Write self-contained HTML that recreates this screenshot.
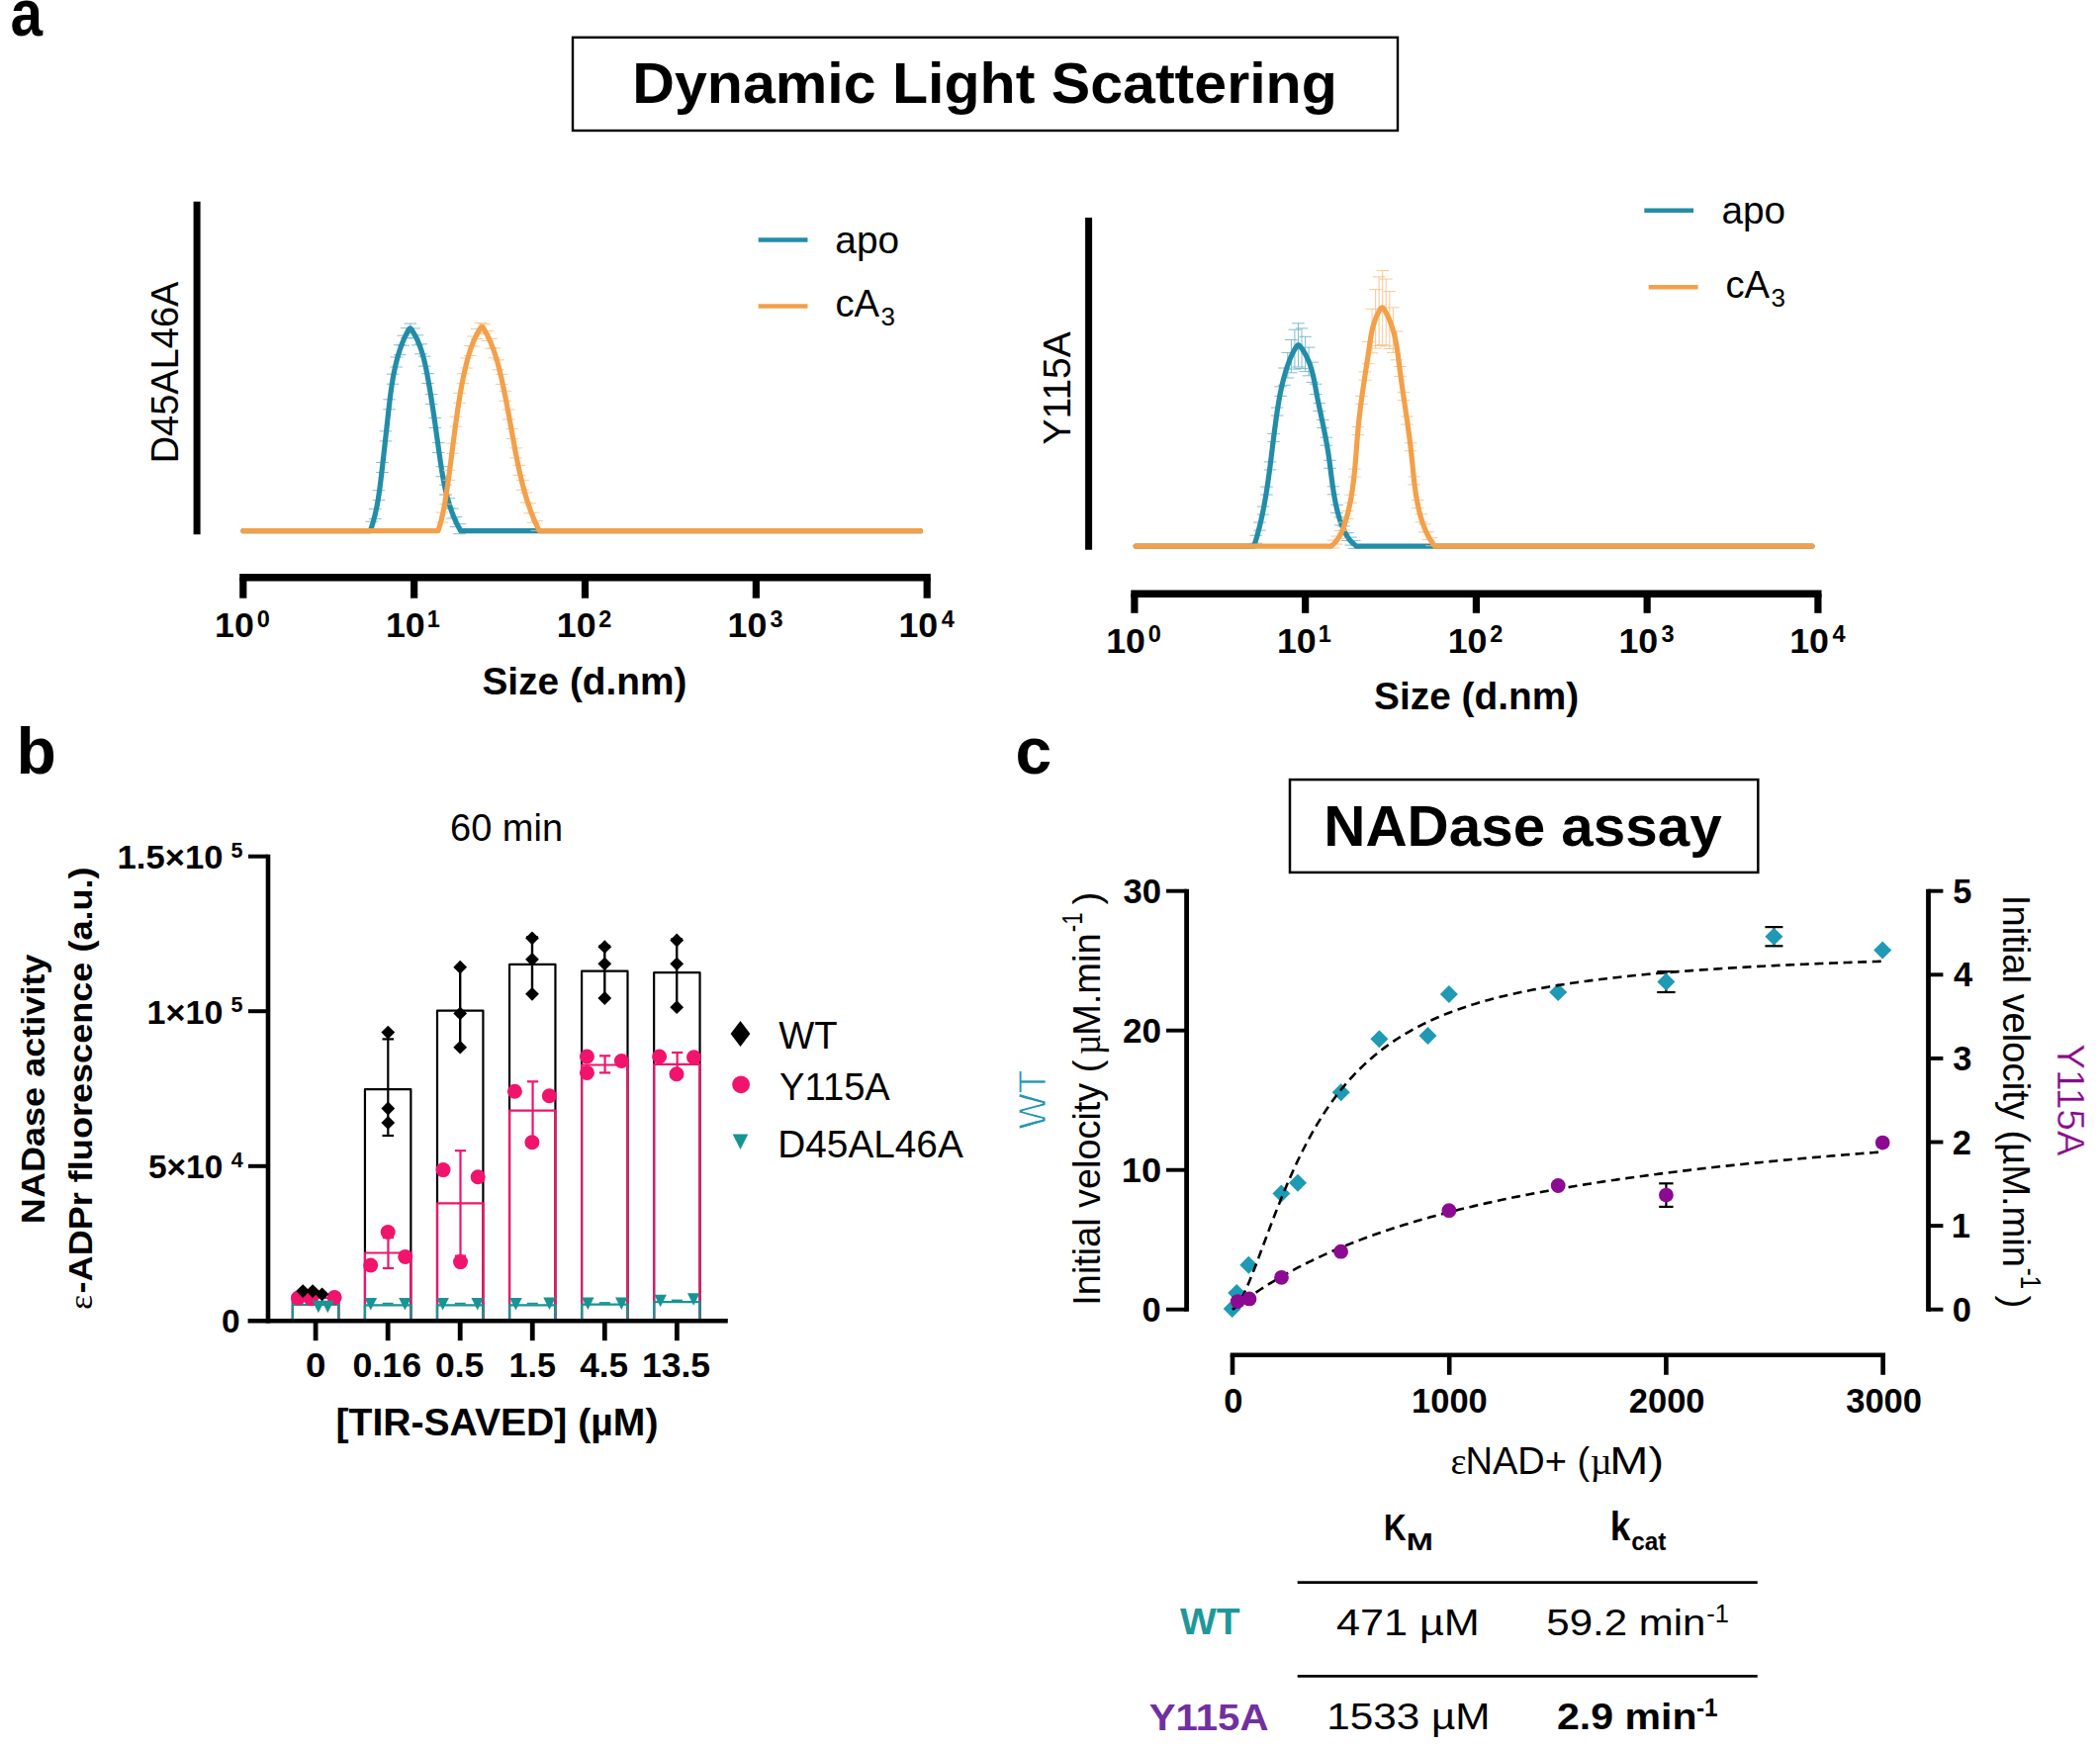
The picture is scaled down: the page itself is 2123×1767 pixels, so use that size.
<!DOCTYPE html>
<html><head><meta charset="utf-8"><title>Figure</title>
<style>html,body{margin:0;padding:0;background:#fff;overflow:hidden}svg{display:block}text{white-space:pre}</style></head>
<body><svg width="2123" height="1767" viewBox="0 0 2123 1767">
<rect width="2123" height="1767" fill="#fff"/>
<text x="10.49" y="36.30" font-family="'Liberation Sans', sans-serif" font-size="66" font-weight="bold" fill="#000"  textLength="32.54" lengthAdjust="spacingAndGlyphs">a</text>
<text x="16.48" y="782.00" font-family="'Liberation Sans', sans-serif" font-size="66" font-weight="bold" fill="#000" >b</text>
<text x="1026.54" y="781.70" font-family="'Liberation Sans', sans-serif" font-size="66" font-weight="bold" fill="#000" >c</text>
<rect x="579.00" y="37.80" width="834.00" height="94.20" fill="none" stroke="#000" stroke-width="2.4"/>
<text x="639.31" y="104.00" font-family="'Liberation Sans', sans-serif" font-size="57" font-weight="bold" fill="#000"  textLength="712.47" lengthAdjust="spacingAndGlyphs">Dynamic Light Scattering</text>
<line x1="199.10" y1="203.70" x2="199.10" y2="540.30" stroke="#000" stroke-width="7" stroke-linecap="butt" />
<text transform="translate(180.00,468.37) rotate(-90)" font-family="'Liberation Sans', sans-serif" font-size="38.8" font-weight="normal" fill="#000"  textLength="183.78" lengthAdjust="spacingAndGlyphs">D45AL46A</text>
<path d="M375.8,527.2V537.2M369.5,527.2h12.6M369.5,537.2h12.6M379.4,514.4V524.4M373.1,514.4h12.6M373.1,524.4h12.6M382.9,495.7V505.7M376.6,495.7h12.6M376.6,505.7h12.6M386.5,467.5V477.5M380.2,467.5h12.6M380.2,477.5h12.6M390.0,435.9V445.9M383.7,435.9h12.6M383.7,445.9h12.6M393.6,403.8V413.8M387.3,403.8h12.6M387.3,413.8h12.6M397.1,378.2V388.2M390.8,378.2h12.6M390.8,388.2h12.6M400.7,361.0V371.0M394.4,361.0h12.6M394.4,371.0h12.6M404.2,348.7V358.7M397.9,348.7h12.6M397.9,358.7h12.6M407.8,339.2V349.2M401.5,339.2h12.6M401.5,349.2h12.6M411.3,331.6V341.6M405.0,331.6h12.6M405.0,341.6h12.6M414.9,327.1V337.1M408.6,327.1h12.6M408.6,337.1h12.6M418.4,331.9V341.9M412.1,331.9h12.6M412.1,341.9h12.6M422.0,338.9V348.9M415.7,338.9h12.6M415.7,348.9h12.6M425.5,347.8V357.8M419.2,347.8h12.6M419.2,357.8h12.6M429.1,360.2V370.2M422.8,360.2h12.6M422.8,370.2h12.6M432.6,377.6V387.6M426.3,377.6h12.6M426.3,387.6h12.6M436.2,398.6V408.6M429.9,398.6h12.6M429.9,408.6h12.6M439.7,422.4V432.4M433.4,422.4h12.6M433.4,432.4h12.6M443.3,447.6V457.6M437.0,447.6h12.6M437.0,457.6h12.6M446.8,471.7V481.7M440.5,471.7h12.6M440.5,481.7h12.6M450.4,490.2V500.2M444.1,490.2h12.6M444.1,500.2h12.6M453.9,503.7V513.7M447.6,503.7h12.6M447.6,513.7h12.6M457.5,514.1V524.1M451.2,514.1h12.6M451.2,524.1h12.6M461.0,522.6V532.6M454.7,522.6h12.6M454.7,532.6h12.6M464.6,529.7V539.7M458.3,529.7h12.6M458.3,539.7h12.6" stroke="#6BB3C6" stroke-width="1" fill="none" opacity="0.85"/>
<path d="M246.00,536.70 L374.30,536.70 L374.73,535.46 L375.02,534.64 L375.34,533.69 L375.66,532.71 L375.99,531.71 L376.30,530.71 L376.61,529.70 L376.92,528.70 L377.21,527.69 L377.50,526.68 L377.78,525.67 L378.05,524.66 L378.32,523.64 L378.58,522.63 L378.84,521.61 L379.09,520.59 L379.33,519.57 L379.57,518.55 L379.80,517.53 L380.03,516.51 L380.25,515.48 L380.47,514.46 L380.68,513.43 L380.88,512.40 L381.09,511.37 L381.28,510.34 L381.48,509.31 L381.66,508.27 L381.85,507.24 L382.03,506.20 L382.20,505.16 L382.37,504.12 L382.54,503.08 L382.71,502.04 L382.87,501.00 L383.03,499.96 L383.18,498.92 L383.33,497.87 L383.48,496.82 L383.63,495.78 L383.77,494.73 L383.92,493.68 L384.05,492.63 L384.19,491.58 L384.33,490.53 L384.46,489.48 L384.59,488.42 L384.72,487.37 L384.85,486.32 L384.98,485.26 L385.11,484.20 L385.23,483.15 L385.36,482.09 L385.48,481.03 L385.61,479.97 L385.73,478.91 L385.85,477.85 L385.97,476.79 L386.10,475.73 L386.22,474.67 L386.34,473.61 L386.46,472.54 L386.59,471.48 L386.71,470.42 L386.83,469.35 L386.95,468.29 L387.07,467.22 L387.19,466.15 L387.31,465.09 L387.43,464.02 L387.55,462.96 L387.67,461.89 L387.79,460.82 L387.91,459.75 L388.03,458.69 L388.15,457.62 L388.27,456.55 L388.39,455.48 L388.51,454.41 L388.63,453.34 L388.75,452.27 L388.87,451.20 L388.99,450.13 L389.11,449.06 L389.23,448.00 L389.34,446.93 L389.46,445.86 L389.58,444.79 L389.70,443.72 L389.82,442.65 L389.94,441.58 L390.05,440.51 L390.17,439.44 L390.29,438.37 L390.41,437.30 L390.53,436.23 L390.64,435.16 L390.76,434.10 L390.88,433.03 L391.00,431.96 L391.11,430.89 L391.23,429.82 L391.35,428.76 L391.47,427.69 L391.58,426.62 L391.70,425.56 L391.82,424.49 L391.94,423.43 L392.05,422.36 L392.17,421.30 L392.29,420.23 L392.40,419.17 L392.52,418.11 L392.64,417.04 L392.76,415.98 L392.88,414.92 L392.99,413.86 L393.11,412.80 L393.23,411.74 L393.35,410.68 L393.47,409.62 L393.60,408.57 L393.72,407.51 L393.84,406.45 L393.97,405.40 L394.10,404.34 L394.23,403.29 L394.36,402.24 L394.49,401.18 L394.62,400.13 L394.76,399.08 L394.89,398.03 L395.03,396.98 L395.17,395.94 L395.32,394.89 L395.46,393.84 L395.61,392.80 L395.76,391.76 L395.92,390.71 L396.07,389.67 L396.23,388.63 L396.39,387.59 L396.56,386.55 L396.73,385.52 L396.90,384.48 L397.07,383.45 L397.25,382.41 L397.43,381.38 L397.62,380.35 L397.81,379.32 L398.00,378.29 L398.20,377.26 L398.40,376.24 L398.61,375.21 L398.82,374.19 L399.03,373.16 L399.25,372.14 L399.47,371.12 L399.70,370.11 L399.93,369.09 L400.17,368.08 L400.41,367.06 L400.66,366.05 L400.91,365.04 L401.17,364.03 L401.44,363.02 L401.71,362.02 L401.98,361.01 L402.26,360.01 L402.55,359.01 L402.85,358.01 L403.15,357.01 L403.45,356.02 L403.77,355.03 L404.09,354.03 L404.42,353.04 L404.76,352.05 L405.11,351.07 L405.46,350.08 L405.82,349.10 L406.19,348.12 L406.57,347.14 L406.96,346.16 L407.36,345.19 L407.77,344.21 L408.18,343.24 L408.61,342.27 L409.05,341.30 L409.50,340.34 L409.95,339.38 L410.42,338.41 L410.90,337.46 L411.39,336.50 L411.89,335.54 L412.40,334.59 L412.93,333.67 L413.47,332.83 L414.03,332.20 L414.61,331.96 L415.21,332.19 L415.82,332.82 L416.42,333.65 L417.02,334.58 L417.59,335.52 L418.15,336.47 L418.70,337.43 L419.23,338.39 L419.75,339.35 L420.25,340.31 L420.74,341.27 L421.21,342.24 L421.67,343.21 L422.12,344.18 L422.55,345.16 L422.97,346.14 L423.38,347.12 L423.78,348.10 L424.16,349.08 L424.54,350.07 L424.90,351.06 L425.26,352.05 L425.60,353.05 L425.93,354.04 L426.26,355.04 L426.57,356.04 L426.88,357.05 L427.17,358.05 L427.46,359.06 L427.74,360.07 L428.02,361.08 L428.28,362.09 L428.54,363.11 L428.80,364.12 L429.04,365.14 L429.28,366.16 L429.52,367.18 L429.75,368.21 L429.98,369.23 L430.20,370.26 L430.42,371.29 L430.63,372.32 L430.84,373.36 L431.05,374.39 L431.25,375.43 L431.46,376.47 L431.66,377.50 L431.85,378.55 L432.05,379.59 L432.25,380.63 L432.44,381.68 L432.63,382.72 L432.82,383.77 L433.01,384.82 L433.20,385.87 L433.39,386.93 L433.57,387.98 L433.76,389.03 L433.94,390.09 L434.12,391.15 L434.30,392.20 L434.48,393.26 L434.66,394.32 L434.84,395.39 L435.01,396.45 L435.19,397.51 L435.36,398.58 L435.54,399.64 L435.71,400.71 L435.88,401.78 L436.05,402.85 L436.22,403.91 L436.39,404.98 L436.55,406.06 L436.72,407.13 L436.89,408.20 L437.05,409.27 L437.21,410.35 L437.38,411.42 L437.54,412.50 L437.70,413.57 L437.86,414.65 L438.02,415.72 L438.18,416.80 L438.34,417.88 L438.50,418.96 L438.66,420.04 L438.82,421.12 L438.97,422.20 L439.13,423.27 L439.28,424.35 L439.44,425.44 L439.59,426.52 L439.75,427.60 L439.90,428.68 L440.06,429.76 L440.21,430.84 L440.36,431.92 L440.52,433.00 L440.67,434.08 L440.82,435.17 L440.97,436.25 L441.12,437.33 L441.28,438.41 L441.43,439.49 L441.58,440.57 L441.73,441.65 L441.88,442.74 L442.03,443.82 L442.18,444.90 L442.33,445.98 L442.48,447.06 L442.63,448.14 L442.79,449.22 L442.94,450.30 L443.09,451.37 L443.24,452.45 L443.39,453.53 L443.54,454.61 L443.69,455.68 L443.85,456.76 L444.00,457.84 L444.15,458.91 L444.30,459.99 L444.46,461.06 L444.61,462.13 L444.76,463.20 L444.92,464.28 L445.07,465.35 L445.23,466.42 L445.39,467.49 L445.55,468.55 L445.71,469.62 L445.87,470.69 L446.03,471.75 L446.20,472.82 L446.37,473.88 L446.54,474.94 L446.71,476.01 L446.88,477.07 L447.06,478.13 L447.24,479.18 L447.42,480.24 L447.60,481.30 L447.79,482.35 L447.98,483.41 L448.17,484.46 L448.37,485.51 L448.57,486.56 L448.77,487.61 L448.98,488.65 L449.19,489.70 L449.41,490.74 L449.62,491.78 L449.85,492.83 L450.07,493.86 L450.31,494.90 L450.54,495.94 L450.78,496.97 L451.03,498.01 L451.28,499.04 L451.53,500.07 L451.79,501.09 L452.06,502.12 L452.33,503.14 L452.61,504.17 L452.89,505.19 L453.18,506.21 L453.47,507.22 L453.77,508.24 L454.08,509.25 L454.39,510.26 L454.71,511.27 L455.04,512.28 L455.37,513.28 L455.71,514.28 L456.06,515.28 L456.41,516.28 L456.77,517.28 L457.14,518.27 L457.51,519.26 L457.90,520.25 L458.29,521.24 L458.69,522.23 L459.09,523.21 L459.51,524.19 L459.93,525.17 L460.36,526.14 L460.80,527.11 L461.25,528.08 L461.70,529.05 L462.17,530.02 L462.65,530.98 L463.13,531.94 L463.63,532.89 L464.12,533.84 L464.61,534.74 L465.04,535.52 L465.70,536.70 L930.50,536.70" fill="none" stroke="#238DA8" stroke-width="5.2" stroke-linejoin="round" stroke-linecap="round"/>
<path d="M446.8,518.0V528.0M440.5,518.0h12.6M440.5,528.0h12.6M450.4,499.7V509.7M444.1,499.7h12.6M444.1,509.7h12.6M453.9,475.3V485.3M447.6,475.3h12.6M447.6,485.3h12.6M457.5,448.2V458.2M451.2,448.2h12.6M451.2,458.2h12.6M461.0,421.2V431.2M454.7,421.2h12.6M454.7,431.2h12.6M464.6,397.3V407.3M458.3,397.3h12.6M458.3,407.3h12.6M468.1,377.7V387.7M461.8,377.7h12.6M461.8,387.7h12.6M471.7,362.0V372.0M465.4,362.0h12.6M465.4,372.0h12.6M475.2,349.6V359.6M468.9,349.6h12.6M468.9,359.6h12.6M478.8,340.0V350.0M472.5,340.0h12.6M472.5,350.0h12.6M482.3,332.5V342.5M476.0,332.5h12.6M476.0,342.5h12.6M485.9,326.5V336.5M479.6,326.5h12.6M479.6,336.5h12.6M489.4,327.8V337.8M483.1,327.8h12.6M483.1,337.8h12.6M493.0,334.5V344.5M486.7,334.5h12.6M486.7,344.5h12.6M496.5,342.3V352.3M490.2,342.3h12.6M490.2,352.3h12.6M500.1,351.9V361.9M493.8,351.9h12.6M493.8,361.9h12.6M503.6,363.8V373.8M497.3,363.8h12.6M497.3,373.8h12.6M507.2,378.4V388.4M500.9,378.4h12.6M500.9,388.4h12.6M510.7,395.3V405.3M504.4,395.3h12.6M504.4,405.3h12.6M514.3,414.0V424.0M508.0,414.0h12.6M508.0,424.0h12.6M517.8,433.6V443.6M511.5,433.6h12.6M511.5,443.6h12.6M521.4,452.9V462.9M515.1,452.9h12.6M515.1,462.9h12.6M524.9,470.3V480.3M518.6,470.3h12.6M518.6,480.3h12.6M528.5,485.3V495.3M522.2,485.3h12.6M522.2,495.3h12.6M532.0,498.0V508.0M525.7,498.0h12.6M525.7,508.0h12.6M535.6,508.8V518.8M529.3,508.8h12.6M529.3,518.8h12.6M539.1,518.2V528.2M532.8,518.2h12.6M532.8,528.2h12.6M542.7,526.4V536.4M536.4,526.4h12.6M536.4,536.4h12.6" stroke="#F6BE85" stroke-width="1" fill="none" opacity="0.85"/>
<path d="M246.00,536.70 L442.90,536.70 L443.32,535.45 L443.59,534.61 L443.89,533.66 L444.21,532.66 L444.51,531.64 L444.81,530.63 L445.10,529.61 L445.39,528.59 L445.67,527.57 L445.94,526.55 L446.20,525.53 L446.46,524.50 L446.71,523.47 L446.95,522.44 L447.19,521.41 L447.42,520.38 L447.65,519.35 L447.87,518.32 L448.09,517.28 L448.30,516.24 L448.51,515.20 L448.71,514.17 L448.91,513.12 L449.10,512.08 L449.29,511.04 L449.48,509.99 L449.66,508.95 L449.84,507.90 L450.01,506.85 L450.19,505.80 L450.36,504.75 L450.53,503.70 L450.69,502.65 L450.86,501.59 L451.02,500.54 L451.18,499.48 L451.34,498.42 L451.50,497.36 L451.66,496.31 L451.81,495.25 L451.97,494.18 L452.12,493.12 L452.28,492.06 L452.43,491.00 L452.58,489.93 L452.73,488.87 L452.89,487.80 L453.04,486.73 L453.18,485.66 L453.33,484.60 L453.48,483.53 L453.63,482.46 L453.77,481.39 L453.92,480.31 L454.07,479.24 L454.21,478.17 L454.36,477.10 L454.50,476.02 L454.64,474.95 L454.79,473.87 L454.93,472.80 L455.07,471.72 L455.21,470.65 L455.35,469.57 L455.49,468.49 L455.64,467.42 L455.78,466.34 L455.92,465.26 L456.06,464.18 L456.20,463.10 L456.34,462.02 L456.47,460.95 L456.61,459.87 L456.75,458.79 L456.89,457.71 L457.03,456.63 L457.17,455.55 L457.31,454.47 L457.45,453.38 L457.59,452.30 L457.73,451.22 L457.87,450.14 L458.00,449.06 L458.14,447.98 L458.28,446.90 L458.42,445.82 L458.56,444.74 L458.70,443.66 L458.84,442.58 L458.98,441.50 L459.12,440.42 L459.27,439.34 L459.41,438.26 L459.55,437.18 L459.69,436.10 L459.83,435.02 L459.98,433.94 L460.12,432.86 L460.26,431.78 L460.41,430.70 L460.55,429.63 L460.70,428.55 L460.85,427.47 L460.99,426.40 L461.14,425.32 L461.29,424.24 L461.44,423.17 L461.59,422.09 L461.74,421.02 L461.89,419.95 L462.04,418.87 L462.20,417.80 L462.35,416.73 L462.50,415.66 L462.66,414.59 L462.82,413.52 L462.98,412.45 L463.14,411.38 L463.30,410.31 L463.46,409.25 L463.63,408.18 L463.79,407.11 L463.96,406.05 L464.13,404.99 L464.30,403.92 L464.47,402.86 L464.64,401.80 L464.82,400.74 L464.99,399.68 L465.17,398.62 L465.35,397.57 L465.53,396.51 L465.72,395.46 L465.90,394.40 L466.09,393.35 L466.28,392.30 L466.47,391.25 L466.67,390.20 L466.86,389.15 L467.06,388.10 L467.26,387.06 L467.47,386.01 L467.67,384.97 L467.88,383.92 L468.09,382.88 L468.30,381.84 L468.52,380.81 L468.73,379.77 L468.95,378.73 L469.18,377.70 L469.40,376.67 L469.63,375.64 L469.86,374.61 L470.09,373.58 L470.33,372.55 L470.57,371.53 L470.81,370.50 L471.06,369.48 L471.31,368.46 L471.56,367.44 L471.81,366.42 L472.07,365.41 L472.34,364.40 L472.61,363.38 L472.88,362.37 L473.16,361.36 L473.44,360.36 L473.73,359.35 L474.03,358.35 L474.33,357.35 L474.64,356.35 L474.96,355.35 L475.28,354.35 L475.61,353.36 L475.95,352.37 L476.30,351.38 L476.65,350.39 L477.02,349.41 L477.39,348.42 L477.78,347.44 L478.17,346.46 L478.57,345.48 L478.99,344.51 L479.41,343.53 L479.85,342.56 L480.30,341.59 L480.76,340.63 L481.23,339.66 L481.71,338.70 L482.21,337.74 L482.72,336.78 L483.24,335.82 L483.77,334.87 L484.32,333.92 L484.89,332.98 L485.46,332.05 L486.05,331.22 L486.65,330.60 L487.25,330.36 L487.84,330.60 L488.42,331.23 L488.98,332.08 L489.54,333.01 L490.08,333.97 L490.61,334.93 L491.13,335.89 L491.65,336.85 L492.15,337.82 L492.64,338.79 L493.12,339.77 L493.59,340.74 L494.05,341.72 L494.51,342.70 L494.95,343.68 L495.39,344.67 L495.81,345.66 L496.23,346.65 L496.64,347.64 L497.04,348.63 L497.44,349.63 L497.82,350.63 L498.20,351.63 L498.57,352.63 L498.94,353.64 L499.29,354.64 L499.64,355.65 L499.99,356.66 L500.33,357.68 L500.66,358.69 L500.98,359.71 L501.30,360.73 L501.61,361.75 L501.92,362.77 L502.22,363.80 L502.52,364.82 L502.81,365.85 L503.10,366.88 L503.38,367.91 L503.66,368.95 L503.94,369.98 L504.21,371.02 L504.47,372.06 L504.73,373.10 L504.99,374.14 L505.25,375.18 L505.50,376.22 L505.75,377.27 L506.00,378.32 L506.24,379.37 L506.48,380.42 L506.72,381.47 L506.96,382.52 L507.20,383.58 L507.43,384.63 L507.66,385.69 L507.89,386.75 L508.12,387.81 L508.35,388.87 L508.58,389.93 L508.80,390.99 L509.03,392.06 L509.25,393.12 L509.47,394.19 L509.69,395.25 L509.91,396.32 L510.12,397.39 L510.34,398.46 L510.55,399.53 L510.77,400.61 L510.98,401.68 L511.19,402.75 L511.40,403.83 L511.61,404.90 L511.82,405.98 L512.03,407.06 L512.24,408.13 L512.44,409.21 L512.65,410.29 L512.85,411.37 L513.06,412.45 L513.26,413.53 L513.46,414.61 L513.66,415.69 L513.86,416.78 L514.06,417.86 L514.26,418.94 L514.46,420.03 L514.66,421.11 L514.86,422.20 L515.06,423.28 L515.26,424.37 L515.45,425.45 L515.65,426.54 L515.85,427.62 L516.04,428.71 L516.24,429.79 L516.43,430.88 L516.63,431.97 L516.83,433.05 L517.02,434.14 L517.22,435.23 L517.41,436.31 L517.61,437.40 L517.80,438.49 L518.00,439.58 L518.20,440.66 L518.39,441.75 L518.59,442.83 L518.78,443.92 L518.98,445.01 L519.18,446.09 L519.38,447.18 L519.57,448.26 L519.77,449.35 L519.97,450.43 L520.17,451.52 L520.37,452.60 L520.57,453.69 L520.78,454.77 L520.98,455.85 L521.19,456.93 L521.39,458.02 L521.60,459.10 L521.81,460.18 L522.02,461.26 L522.23,462.34 L522.44,463.42 L522.65,464.49 L522.87,465.57 L523.09,466.65 L523.31,467.72 L523.53,468.80 L523.75,469.87 L523.97,470.95 L524.20,472.02 L524.43,473.09 L524.66,474.16 L524.89,475.23 L525.13,476.30 L525.36,477.37 L525.60,478.43 L525.84,479.50 L526.09,480.57 L526.33,481.63 L526.58,482.69 L526.84,483.75 L527.09,484.81 L527.35,485.87 L527.61,486.93 L527.87,487.99 L528.14,489.04 L528.41,490.10 L528.68,491.15 L528.96,492.20 L529.23,493.25 L529.52,494.30 L529.80,495.34 L530.09,496.39 L530.38,497.43 L530.68,498.48 L530.98,499.52 L531.28,500.56 L531.59,501.59 L531.90,502.63 L532.22,503.67 L532.53,504.70 L532.86,505.73 L533.18,506.76 L533.52,507.79 L533.85,508.81 L534.19,509.84 L534.53,510.86 L534.88,511.88 L535.24,512.90 L535.59,513.91 L535.95,514.93 L536.32,515.94 L536.69,516.95 L537.07,517.96 L537.45,518.97 L537.83,519.97 L538.23,520.97 L538.62,521.97 L539.02,522.97 L539.43,523.97 L539.84,524.96 L540.26,525.95 L540.68,526.94 L541.10,527.93 L541.54,528.91 L541.98,529.89 L542.42,530.87 L542.87,531.85 L543.32,532.82 L543.78,533.78 L544.22,534.70 L544.61,535.50 L545.20,536.70 L930.50,536.70" fill="none" stroke="#F2A04A" stroke-width="5.2" stroke-linejoin="round" stroke-linecap="round"/>
<line x1="242.20" y1="583.80" x2="940.80" y2="583.80" stroke="#000" stroke-width="7.4" stroke-linecap="butt" />
<line x1="245.80" y1="583.80" x2="245.80" y2="604.70" stroke="#000" stroke-width="7.2" stroke-linecap="butt" />
<text x="217.06" y="644.00" font-family="'Liberation Sans', sans-serif" font-size="35.5" font-weight="bold" fill="#000"  textLength="39.79" lengthAdjust="spacingAndGlyphs">10</text>
<text x="259.67" y="633.50" font-family="'Liberation Sans', sans-serif" font-size="23.5" font-weight="bold" fill="#000" >0</text>
<line x1="418.65" y1="583.80" x2="418.65" y2="604.70" stroke="#000" stroke-width="7.2" stroke-linecap="butt" />
<text x="389.91" y="644.00" font-family="'Liberation Sans', sans-serif" font-size="35.5" font-weight="bold" fill="#000"  textLength="39.79" lengthAdjust="spacingAndGlyphs">10</text>
<text x="431.78" y="633.50" font-family="'Liberation Sans', sans-serif" font-size="23.5" font-weight="bold" fill="#000" >1</text>
<line x1="591.50" y1="583.80" x2="591.50" y2="604.70" stroke="#000" stroke-width="7.2" stroke-linecap="butt" />
<text x="562.76" y="644.00" font-family="'Liberation Sans', sans-serif" font-size="35.5" font-weight="bold" fill="#000"  textLength="39.79" lengthAdjust="spacingAndGlyphs">10</text>
<text x="605.37" y="633.50" font-family="'Liberation Sans', sans-serif" font-size="23.5" font-weight="bold" fill="#000" >2</text>
<line x1="764.35" y1="583.80" x2="764.35" y2="604.70" stroke="#000" stroke-width="7.2" stroke-linecap="butt" />
<text x="735.61" y="644.00" font-family="'Liberation Sans', sans-serif" font-size="35.5" font-weight="bold" fill="#000"  textLength="39.79" lengthAdjust="spacingAndGlyphs">10</text>
<text x="778.58" y="633.50" font-family="'Liberation Sans', sans-serif" font-size="23.5" font-weight="bold" fill="#000" >3</text>
<line x1="937.20" y1="583.80" x2="937.20" y2="604.70" stroke="#000" stroke-width="7.2" stroke-linecap="butt" />
<text x="908.46" y="644.00" font-family="'Liberation Sans', sans-serif" font-size="35.5" font-weight="bold" fill="#000"  textLength="39.79" lengthAdjust="spacingAndGlyphs">10</text>
<text x="951.80" y="633.50" font-family="'Liberation Sans', sans-serif" font-size="23.5" font-weight="bold" fill="#000" >4</text>
<text x="487.49" y="702.00" font-family="'Liberation Sans', sans-serif" font-size="38" font-weight="bold" fill="#000"  textLength="207.01" lengthAdjust="spacingAndGlyphs">Size (d.nm)</text>
<line x1="766.70" y1="242.50" x2="816.50" y2="242.50" stroke="#238DA8" stroke-width="4.6" stroke-linecap="butt" />
<line x1="766.70" y1="309.50" x2="816.50" y2="309.50" stroke="#F2A04A" stroke-width="4.6" stroke-linecap="butt" />
<text x="844.39" y="255.90" font-family="'Liberation Sans', sans-serif" font-size="38.5" font-weight="normal" fill="#000"  textLength="64.68" lengthAdjust="spacingAndGlyphs">apo</text>
<text x="844.41" y="320.00" font-family="'Liberation Sans', sans-serif" font-size="38.5" font-weight="normal" fill="#000"  textLength="44.61" lengthAdjust="spacingAndGlyphs">cA</text>
<text x="890.39" y="329.00" font-family="'Liberation Sans', sans-serif" font-size="26" font-weight="normal" fill="#000" >3</text>
<line x1="1100.60" y1="220.00" x2="1100.60" y2="555.80" stroke="#000" stroke-width="7" stroke-linecap="butt" />
<text transform="translate(1081.50,449.41) rotate(-90)" font-family="'Liberation Sans', sans-serif" font-size="38.8" font-weight="normal" fill="#000"  textLength="114.22" lengthAdjust="spacingAndGlyphs">Y115A</text>
<path d="M1269.9,541.2V549.2M1263.6,541.2h12.6M1263.6,549.2h12.6M1273.4,528.1V536.1M1267.1,528.1h12.6M1267.1,536.1h12.6M1277.0,512.1V520.1M1270.7,512.1h12.6M1270.7,520.1h12.6M1280.5,492.1V500.1M1274.2,492.1h12.6M1274.2,500.1h12.6M1284.1,466.9V474.9M1277.8,466.9h12.6M1277.8,474.9h12.6M1287.6,438.4V446.4M1281.3,438.4h12.6M1281.3,446.4h12.6M1291.2,412.1V420.1M1284.9,412.1h12.6M1284.9,420.1h12.6M1294.7,390.8V400.4M1288.4,390.8h12.6M1288.4,400.4h12.6M1298.3,372.0V389.3M1292.0,372.0h12.6M1292.0,389.3h12.6M1301.8,356.4V382.0M1295.5,356.4h12.6M1295.5,382.0h12.6M1305.4,343.5V376.8M1299.1,343.5h12.6M1299.1,376.8h12.6M1308.9,333.2V373.1M1302.6,333.2h12.6M1302.6,373.1h12.6M1312.5,326.8V371.0M1306.2,326.8h12.6M1306.2,371.0h12.6M1316.0,331.9V372.6M1309.7,331.9h12.6M1309.7,372.6h12.6M1319.6,340.3V375.6M1313.3,340.3h12.6M1313.3,375.6h12.6M1323.1,351.1V379.8M1316.8,351.1h12.6M1316.8,379.8h12.6M1326.7,366.2V386.4M1320.4,366.2h12.6M1320.4,386.4h12.6M1330.2,388.2V398.6M1323.9,388.2h12.6M1323.9,398.6h12.6M1333.8,407.6V415.6M1327.5,407.6h12.6M1327.5,415.6h12.6M1337.3,424.4V432.4M1331.0,424.4h12.6M1331.0,432.4h12.6M1340.9,442.2V450.2M1334.6,442.2h12.6M1334.6,450.2h12.6M1344.4,465.3V473.3M1338.1,465.3h12.6M1338.1,473.3h12.6M1348.0,491.8V499.8M1341.7,491.8h12.6M1341.7,499.8h12.6M1351.5,510.4V518.4M1345.2,510.4h12.6M1345.2,518.4h12.6M1355.1,522.9V530.9M1348.8,522.9h12.6M1348.8,530.9h12.6M1358.6,531.9V539.9M1352.3,531.9h12.6M1352.3,539.9h12.6M1362.2,538.5V546.5M1355.9,538.5h12.6M1355.9,546.5h12.6M1365.7,543.1V551.1M1359.4,543.1h12.6M1359.4,551.1h12.6M1369.3,546.4V554.4M1363.0,546.4h12.6M1363.0,554.4h12.6" stroke="#6BB3C6" stroke-width="1" fill="none" opacity="0.85"/>
<path d="M1148.20,552.10 L1267.70,552.10 L1268.10,550.88 L1268.36,550.06 L1268.65,549.13 L1268.96,548.16 L1269.26,547.17 L1269.56,546.18 L1269.86,545.19 L1270.15,544.20 L1270.44,543.20 L1270.73,542.20 L1271.01,541.20 L1271.29,540.20 L1271.57,539.20 L1271.84,538.19 L1272.11,537.19 L1272.38,536.18 L1272.64,535.17 L1272.90,534.16 L1273.15,533.14 L1273.41,532.13 L1273.65,531.11 L1273.90,530.10 L1274.14,529.08 L1274.38,528.06 L1274.62,527.03 L1274.86,526.01 L1275.09,524.98 L1275.31,523.96 L1275.54,522.93 L1275.76,521.90 L1275.98,520.87 L1276.20,519.84 L1276.41,518.81 L1276.63,517.77 L1276.84,516.74 L1277.04,515.70 L1277.25,514.66 L1277.45,513.62 L1277.65,512.58 L1277.85,511.54 L1278.04,510.50 L1278.23,509.45 L1278.42,508.41 L1278.61,507.36 L1278.80,506.32 L1278.98,505.27 L1279.16,504.22 L1279.34,503.17 L1279.52,502.12 L1279.70,501.07 L1279.87,500.02 L1280.04,498.96 L1280.21,497.91 L1280.38,496.85 L1280.55,495.80 L1280.71,494.74 L1280.87,493.69 L1281.04,492.63 L1281.20,491.57 L1281.35,490.51 L1281.51,489.45 L1281.67,488.39 L1281.82,487.33 L1281.97,486.27 L1282.12,485.21 L1282.27,484.15 L1282.42,483.08 L1282.57,482.02 L1282.72,480.96 L1282.86,479.89 L1283.01,478.83 L1283.15,477.76 L1283.29,476.70 L1283.43,475.63 L1283.58,474.57 L1283.71,473.50 L1283.85,472.44 L1283.99,471.37 L1284.13,470.30 L1284.27,469.24 L1284.40,468.17 L1284.54,467.10 L1284.67,466.03 L1284.81,464.97 L1284.94,463.90 L1285.07,462.83 L1285.21,461.76 L1285.34,460.70 L1285.47,459.63 L1285.60,458.56 L1285.73,457.49 L1285.87,456.43 L1286.00,455.36 L1286.13,454.29 L1286.26,453.23 L1286.39,452.16 L1286.52,451.09 L1286.65,450.03 L1286.79,448.96 L1286.92,447.89 L1287.05,446.83 L1287.18,445.76 L1287.31,444.70 L1287.45,443.64 L1287.58,442.57 L1287.71,441.51 L1287.85,440.45 L1287.98,439.38 L1288.11,438.32 L1288.25,437.26 L1288.39,436.20 L1288.52,435.14 L1288.66,434.08 L1288.80,433.02 L1288.94,431.96 L1289.08,430.90 L1289.22,429.85 L1289.36,428.79 L1289.50,427.73 L1289.64,426.68 L1289.79,425.62 L1289.93,424.57 L1290.08,423.52 L1290.23,422.47 L1290.38,421.42 L1290.53,420.37 L1290.68,419.32 L1290.83,418.27 L1290.99,417.22 L1291.14,416.17 L1291.30,415.13 L1291.46,414.09 L1291.62,413.04 L1291.78,412.00 L1291.95,410.96 L1292.11,409.92 L1292.28,408.88 L1292.45,407.84 L1292.63,406.81 L1292.80,405.77 L1292.98,404.74 L1293.17,403.71 L1293.35,402.67 L1293.54,401.64 L1293.73,400.62 L1293.92,399.59 L1294.12,398.56 L1294.32,397.54 L1294.52,396.52 L1294.73,395.49 L1294.94,394.47 L1295.16,393.46 L1295.37,392.44 L1295.60,391.42 L1295.82,390.41 L1296.05,389.40 L1296.29,388.39 L1296.53,387.38 L1296.77,386.37 L1297.02,385.36 L1297.27,384.36 L1297.53,383.36 L1297.80,382.36 L1298.06,381.36 L1298.34,380.36 L1298.61,379.37 L1298.90,378.37 L1299.19,377.38 L1299.48,376.39 L1299.78,375.40 L1300.09,374.42 L1300.40,373.43 L1300.72,372.45 L1301.04,371.47 L1301.37,370.49 L1301.70,369.52 L1302.05,368.55 L1302.39,367.57 L1302.75,366.60 L1303.11,365.64 L1303.48,364.67 L1303.86,363.71 L1304.24,362.75 L1304.64,361.79 L1305.05,360.83 L1305.46,359.88 L1305.90,358.93 L1306.34,357.98 L1306.81,357.03 L1307.29,356.09 L1307.78,355.15 L1308.30,354.21 L1308.84,353.27 L1309.40,352.34 L1309.98,351.41 L1310.58,350.50 L1311.22,349.68 L1311.88,349.07 L1312.57,348.84 L1313.28,349.07 L1314.00,349.68 L1314.71,350.51 L1315.40,351.41 L1316.07,352.35 L1316.72,353.29 L1317.34,354.23 L1317.94,355.18 L1318.52,356.13 L1319.08,357.08 L1319.62,358.04 L1320.14,359.00 L1320.64,359.96 L1321.12,360.93 L1321.58,361.90 L1322.03,362.87 L1322.46,363.85 L1322.87,364.83 L1323.27,365.81 L1323.65,366.80 L1324.02,367.79 L1324.38,368.78 L1324.72,369.77 L1325.05,370.77 L1325.36,371.77 L1325.67,372.77 L1325.96,373.78 L1326.25,374.79 L1326.52,375.80 L1326.78,376.81 L1327.04,377.83 L1327.29,378.85 L1327.52,379.87 L1327.76,380.90 L1327.98,381.92 L1328.20,382.95 L1328.42,383.98 L1328.63,385.02 L1328.83,386.05 L1329.03,387.09 L1329.23,388.13 L1329.43,389.17 L1329.62,390.22 L1329.82,391.26 L1330.01,392.31 L1330.20,393.36 L1330.39,394.41 L1330.58,395.47 L1330.78,396.52 L1330.97,397.58 L1331.17,398.64 L1331.37,399.70 L1331.58,400.76 L1331.78,401.83 L1331.99,402.89 L1332.20,403.96 L1332.42,405.03 L1332.63,406.10 L1332.85,407.17 L1333.07,408.24 L1333.29,409.32 L1333.51,410.39 L1333.73,411.47 L1333.96,412.55 L1334.18,413.63 L1334.41,414.71 L1334.64,415.79 L1334.87,416.87 L1335.10,417.96 L1335.33,419.04 L1335.56,420.13 L1335.79,421.21 L1336.02,422.30 L1336.25,423.39 L1336.48,424.47 L1336.71,425.56 L1336.94,426.65 L1337.17,427.74 L1337.40,428.83 L1337.63,429.93 L1337.85,431.02 L1338.08,432.11 L1338.30,433.20 L1338.53,434.30 L1338.75,435.39 L1338.97,436.48 L1339.19,437.58 L1339.41,438.67 L1339.63,439.77 L1339.84,440.86 L1340.05,441.96 L1340.26,443.05 L1340.47,444.15 L1340.67,445.24 L1340.87,446.33 L1341.07,447.43 L1341.27,448.52 L1341.46,449.62 L1341.65,450.71 L1341.84,451.80 L1342.02,452.90 L1342.20,453.99 L1342.38,455.08 L1342.55,456.17 L1342.72,457.26 L1342.89,458.35 L1343.05,459.44 L1343.21,460.53 L1343.37,461.62 L1343.52,462.71 L1343.67,463.80 L1343.82,464.89 L1343.97,465.98 L1344.11,467.06 L1344.26,468.15 L1344.40,469.24 L1344.54,470.32 L1344.68,471.41 L1344.82,472.49 L1344.96,473.58 L1345.10,474.66 L1345.23,475.75 L1345.37,476.83 L1345.51,477.91 L1345.64,479.00 L1345.78,480.08 L1345.92,481.16 L1346.06,482.24 L1346.20,483.32 L1346.34,484.40 L1346.48,485.48 L1346.63,486.56 L1346.77,487.64 L1346.92,488.72 L1347.07,489.80 L1347.22,490.88 L1347.38,491.96 L1347.54,493.04 L1347.70,494.12 L1347.86,495.20 L1348.03,496.27 L1348.20,497.35 L1348.37,498.43 L1348.55,499.50 L1348.73,500.58 L1348.91,501.66 L1349.10,502.73 L1349.30,503.81 L1349.50,504.88 L1349.70,505.96 L1349.91,507.03 L1350.13,508.11 L1350.35,509.18 L1350.57,510.26 L1350.81,511.33 L1351.04,512.40 L1351.29,513.47 L1351.54,514.55 L1351.80,515.61 L1352.06,516.68 L1352.33,517.74 L1352.61,518.80 L1352.90,519.86 L1353.19,520.92 L1353.49,521.96 L1353.80,523.01 L1354.12,524.05 L1354.45,525.08 L1354.78,526.11 L1355.13,527.13 L1355.48,528.15 L1355.84,529.16 L1356.21,530.16 L1356.59,531.15 L1356.98,532.13 L1357.38,533.11 L1357.79,534.07 L1358.21,535.03 L1358.65,535.98 L1359.09,536.91 L1359.54,537.84 L1360.01,538.75 L1360.49,539.66 L1360.99,540.55 L1361.51,541.42 L1362.04,542.29 L1362.60,543.14 L1363.18,543.97 L1363.78,544.79 L1364.41,545.60 L1365.07,546.39 L1365.76,547.16 L1366.48,547.92 L1367.23,548.66 L1368.02,549.38 L1368.83,550.07 L1369.64,550.72 L1370.37,551.28 L1371.50,552.10 L1832.00,552.10" fill="none" stroke="#238DA8" stroke-width="5.2" stroke-linejoin="round" stroke-linecap="round"/>
<path d="M1348.0,546.1V554.1M1341.7,546.1h12.6M1341.7,554.1h12.6M1351.5,542.1V550.1M1345.2,542.1h12.6M1345.2,550.1h12.6M1355.1,536.4V544.4M1348.8,536.4h12.6M1348.8,544.4h12.6M1358.6,528.1V536.1M1352.3,528.1h12.6M1352.3,536.1h12.6M1362.2,516.4V524.4M1355.9,516.4h12.6M1355.9,524.4h12.6M1365.7,500.2V508.2M1359.4,500.2h12.6M1359.4,508.2h12.6M1369.3,474.1V482.1M1363.0,474.1h12.6M1363.0,482.1h12.6M1372.8,431.6V439.6M1366.5,431.6h12.6M1366.5,439.6h12.6M1376.4,400.4V408.4M1370.1,400.4h12.6M1370.1,408.4h12.6M1379.9,375.9V384.2M1373.6,375.9h12.6M1373.6,384.2h12.6M1383.5,345.4V367.7M1377.2,345.4h12.6M1377.2,367.7h12.6M1387.0,312.3V356.8M1380.7,312.3h12.6M1380.7,356.8h12.6M1390.6,292.7V352.1M1384.3,292.7h12.6M1384.3,352.1h12.6M1394.1,279.9V349.5M1387.8,279.9h12.6M1387.8,349.5h12.6M1397.7,273.6V348.4M1391.4,273.6h12.6M1391.4,348.4h12.6M1401.2,282.1V349.9M1394.9,282.1h12.6M1394.9,349.9h12.6M1404.8,294.6V352.5M1398.5,294.6h12.6M1398.5,352.5h12.6M1408.3,310.9V356.4M1402.0,310.9h12.6M1402.0,356.4h12.6M1411.9,334.9V363.8M1405.6,334.9h12.6M1405.6,363.8h12.6M1415.4,370.5V380.4M1409.1,370.5h12.6M1409.1,380.4h12.6M1419.0,396.7V404.7M1412.7,396.7h12.6M1412.7,404.7h12.6M1422.5,421.0V429.0M1416.2,421.0h12.6M1416.2,429.0h12.6M1426.1,447.8V455.8M1419.8,447.8h12.6M1419.8,455.8h12.6M1429.6,481.8V489.8M1423.3,481.8h12.6M1423.3,489.8h12.6M1433.2,505.6V513.6M1426.9,505.6h12.6M1426.9,513.6h12.6M1436.7,519.8V527.8M1430.4,519.8h12.6M1430.4,527.8h12.6M1440.3,529.9V537.9M1434.0,529.9h12.6M1434.0,537.9h12.6M1443.8,537.7V545.7M1437.5,537.7h12.6M1437.5,545.7h12.6M1447.4,543.7V551.7M1441.1,543.7h12.6M1441.1,551.7h12.6" stroke="#F6BE85" stroke-width="1" fill="none" opacity="0.85"/>
<path d="M1148.20,552.10 L1345.70,552.10 L1346.87,551.10 L1347.63,550.41 L1348.46,549.60 L1349.30,548.74 L1350.11,547.83 L1350.89,546.90 L1351.63,545.94 L1352.33,544.95 L1353.01,543.94 L1353.65,542.91 L1354.27,541.86 L1354.85,540.79 L1355.41,539.70 L1355.95,538.60 L1356.46,537.48 L1356.95,536.34 L1357.42,535.20 L1357.88,534.04 L1358.31,532.87 L1358.73,531.70 L1359.14,530.52 L1359.53,529.33 L1359.91,528.14 L1360.28,526.95 L1360.64,525.75 L1361.00,524.55 L1361.34,523.35 L1361.68,522.14 L1362.00,520.94 L1362.32,519.73 L1362.63,518.52 L1362.93,517.30 L1363.23,516.09 L1363.52,514.87 L1363.79,513.65 L1364.07,512.43 L1364.33,511.21 L1364.59,509.98 L1364.84,508.75 L1365.08,507.52 L1365.32,506.29 L1365.55,505.06 L1365.78,503.83 L1366.00,502.59 L1366.21,501.35 L1366.42,500.11 L1366.62,498.87 L1366.81,497.63 L1367.00,496.38 L1367.19,495.14 L1367.37,493.89 L1367.54,492.64 L1367.71,491.39 L1367.88,490.14 L1368.04,488.89 L1368.20,487.63 L1368.35,486.38 L1368.50,485.12 L1368.64,483.86 L1368.78,482.60 L1368.92,481.34 L1369.06,480.08 L1369.19,478.82 L1369.31,477.55 L1369.44,476.29 L1369.56,475.02 L1369.68,473.75 L1369.80,472.48 L1369.91,471.22 L1370.03,469.95 L1370.14,468.67 L1370.25,467.40 L1370.35,466.13 L1370.46,464.86 L1370.56,463.58 L1370.67,462.31 L1370.77,461.03 L1370.87,459.76 L1370.97,458.48 L1371.07,457.20 L1371.17,455.93 L1371.27,454.65 L1371.37,453.37 L1371.47,452.09 L1371.56,450.81 L1371.66,449.53 L1371.76,448.25 L1371.86,446.97 L1371.96,445.69 L1372.07,444.41 L1372.17,443.13 L1372.27,441.85 L1372.38,440.57 L1372.49,439.29 L1372.60,438.01 L1372.71,436.72 L1372.82,435.44 L1372.93,434.16 L1373.05,432.88 L1373.17,431.60 L1373.29,430.32 L1373.42,429.04 L1373.55,427.76 L1373.68,426.48 L1373.81,425.19 L1373.95,423.91 L1374.09,422.64 L1374.23,421.36 L1374.37,420.08 L1374.52,418.80 L1374.67,417.52 L1374.83,416.24 L1374.98,414.96 L1375.14,413.69 L1375.30,412.41 L1375.46,411.14 L1375.62,409.86 L1375.79,408.59 L1375.96,407.31 L1376.13,406.04 L1376.30,404.76 L1376.47,403.49 L1376.65,402.22 L1376.83,400.95 L1377.00,399.68 L1377.18,398.41 L1377.36,397.14 L1377.55,395.87 L1377.73,394.61 L1377.91,393.34 L1378.10,392.08 L1378.28,390.81 L1378.47,389.55 L1378.66,388.29 L1378.85,387.02 L1379.04,385.76 L1379.23,384.50 L1379.42,383.25 L1379.61,381.99 L1379.80,380.73 L1379.99,379.48 L1380.18,378.22 L1380.37,376.97 L1380.56,375.72 L1380.75,374.47 L1380.94,373.22 L1381.14,371.97 L1381.33,370.72 L1381.52,369.48 L1381.71,368.23 L1381.89,366.99 L1382.08,365.75 L1382.27,364.51 L1382.46,363.27 L1382.64,362.04 L1382.83,360.80 L1383.01,359.57 L1383.19,358.33 L1383.38,357.10 L1383.56,355.87 L1383.74,354.64 L1383.91,353.42 L1384.09,352.19 L1384.26,350.97 L1384.44,349.75 L1384.61,348.53 L1384.79,347.31 L1384.97,346.10 L1385.15,344.88 L1385.34,343.67 L1385.53,342.46 L1385.73,341.25 L1385.93,340.04 L1386.15,338.84 L1386.37,337.64 L1386.60,336.43 L1386.85,335.24 L1387.11,334.04 L1387.38,332.84 L1387.67,331.65 L1387.97,330.46 L1388.29,329.27 L1388.63,328.08 L1388.99,326.90 L1389.37,325.72 L1389.77,324.54 L1390.19,323.36 L1390.63,322.18 L1391.10,321.01 L1391.60,319.84 L1392.12,318.67 L1392.67,317.50 L1393.24,316.34 L1393.85,315.18 L1394.49,314.02 L1395.16,312.89 L1395.85,311.87 L1396.57,311.11 L1397.30,310.82 L1398.03,311.10 L1398.74,311.86 L1399.43,312.88 L1400.09,314.01 L1400.74,315.16 L1401.36,316.31 L1401.96,317.47 L1402.54,318.63 L1403.10,319.80 L1403.64,320.96 L1404.16,322.13 L1404.66,323.30 L1405.14,324.47 L1405.60,325.64 L1406.05,326.82 L1406.48,327.99 L1406.89,329.17 L1407.29,330.35 L1407.67,331.53 L1408.04,332.72 L1408.39,333.91 L1408.73,335.09 L1409.05,336.28 L1409.36,337.47 L1409.66,338.67 L1409.95,339.86 L1410.22,341.06 L1410.49,342.26 L1410.74,343.46 L1410.99,344.66 L1411.22,345.86 L1411.45,347.06 L1411.67,348.27 L1411.88,349.48 L1412.08,350.69 L1412.28,351.90 L1412.47,353.11 L1412.65,354.33 L1412.83,355.54 L1413.00,356.76 L1413.17,357.98 L1413.34,359.20 L1413.50,360.42 L1413.66,361.64 L1413.82,362.86 L1413.97,364.09 L1414.12,365.32 L1414.28,366.54 L1414.43,367.77 L1414.58,369.00 L1414.74,370.23 L1414.89,371.47 L1415.05,372.70 L1415.21,373.94 L1415.37,375.17 L1415.53,376.41 L1415.69,377.65 L1415.86,378.89 L1416.03,380.13 L1416.19,381.38 L1416.36,382.62 L1416.54,383.86 L1416.71,385.11 L1416.88,386.36 L1417.06,387.60 L1417.24,388.85 L1417.41,390.10 L1417.59,391.35 L1417.77,392.60 L1417.95,393.86 L1418.13,395.11 L1418.32,396.36 L1418.50,397.62 L1418.68,398.88 L1418.87,400.13 L1419.05,401.39 L1419.24,402.65 L1419.42,403.91 L1419.61,405.17 L1419.79,406.43 L1419.98,407.69 L1420.17,408.95 L1420.35,410.22 L1420.54,411.48 L1420.73,412.74 L1420.91,414.01 L1421.10,415.27 L1421.28,416.54 L1421.47,417.81 L1421.65,419.07 L1421.84,420.34 L1422.02,421.61 L1422.21,422.88 L1422.39,424.15 L1422.57,425.42 L1422.75,426.69 L1422.93,427.96 L1423.11,429.23 L1423.29,430.50 L1423.46,431.78 L1423.64,433.05 L1423.82,434.32 L1423.99,435.60 L1424.16,436.87 L1424.33,438.14 L1424.50,439.42 L1424.67,440.69 L1424.83,441.97 L1425.00,443.24 L1425.16,444.52 L1425.32,445.79 L1425.48,447.07 L1425.64,448.34 L1425.79,449.62 L1425.94,450.90 L1426.09,452.17 L1426.24,453.45 L1426.39,454.72 L1426.53,456.00 L1426.67,457.28 L1426.81,458.55 L1426.95,459.83 L1427.08,461.11 L1427.22,462.38 L1427.35,463.66 L1427.48,464.93 L1427.60,466.21 L1427.73,467.48 L1427.86,468.76 L1427.98,470.03 L1428.11,471.31 L1428.23,472.58 L1428.36,473.85 L1428.48,475.12 L1428.61,476.39 L1428.74,477.66 L1428.87,478.93 L1429.00,480.19 L1429.13,481.46 L1429.26,482.72 L1429.40,483.98 L1429.54,485.25 L1429.68,486.51 L1429.83,487.76 L1429.98,489.02 L1430.13,490.27 L1430.28,491.53 L1430.44,492.78 L1430.61,494.03 L1430.78,495.27 L1430.95,496.52 L1431.13,497.76 L1431.31,499.00 L1431.50,500.24 L1431.70,501.47 L1431.90,502.70 L1432.11,503.93 L1432.32,505.16 L1432.54,506.39 L1432.77,507.61 L1433.01,508.83 L1433.25,510.04 L1433.50,511.26 L1433.76,512.47 L1434.03,513.67 L1434.31,514.88 L1434.60,516.08 L1434.89,517.27 L1435.19,518.47 L1435.51,519.66 L1435.83,520.84 L1436.17,522.02 L1436.51,523.20 L1436.87,524.38 L1437.23,525.55 L1437.61,526.72 L1438.00,527.88 L1438.40,529.04 L1438.82,530.19 L1439.24,531.34 L1439.68,532.49 L1440.13,533.63 L1440.59,534.77 L1441.07,535.90 L1441.56,537.03 L1442.07,538.15 L1442.60,539.26 L1443.14,540.37 L1443.70,541.48 L1444.28,542.58 L1444.88,543.67 L1445.51,544.75 L1446.16,545.82 L1446.83,546.89 L1447.53,547.95 L1448.25,548.98 L1448.97,549.97 L1449.61,550.83 L1450.60,552.10 L1832.00,552.10" fill="none" stroke="#F2A04A" stroke-width="5.2" stroke-linejoin="round" stroke-linecap="round"/>
<line x1="1143.30" y1="600.20" x2="1841.50" y2="600.20" stroke="#000" stroke-width="7.4" stroke-linecap="butt" />
<line x1="1146.90" y1="600.20" x2="1146.90" y2="619.80" stroke="#000" stroke-width="7.2" stroke-linecap="butt" />
<text x="1118.16" y="659.70" font-family="'Liberation Sans', sans-serif" font-size="35.5" font-weight="bold" fill="#000"  textLength="39.79" lengthAdjust="spacingAndGlyphs">10</text>
<text x="1160.77" y="649.20" font-family="'Liberation Sans', sans-serif" font-size="23.5" font-weight="bold" fill="#000" >0</text>
<line x1="1319.65" y1="600.20" x2="1319.65" y2="619.80" stroke="#000" stroke-width="7.2" stroke-linecap="butt" />
<text x="1290.91" y="659.70" font-family="'Liberation Sans', sans-serif" font-size="35.5" font-weight="bold" fill="#000"  textLength="39.79" lengthAdjust="spacingAndGlyphs">10</text>
<text x="1332.78" y="649.20" font-family="'Liberation Sans', sans-serif" font-size="23.5" font-weight="bold" fill="#000" >1</text>
<line x1="1492.40" y1="600.20" x2="1492.40" y2="619.80" stroke="#000" stroke-width="7.2" stroke-linecap="butt" />
<text x="1463.66" y="659.70" font-family="'Liberation Sans', sans-serif" font-size="35.5" font-weight="bold" fill="#000"  textLength="39.79" lengthAdjust="spacingAndGlyphs">10</text>
<text x="1506.27" y="649.20" font-family="'Liberation Sans', sans-serif" font-size="23.5" font-weight="bold" fill="#000" >2</text>
<line x1="1665.15" y1="600.20" x2="1665.15" y2="619.80" stroke="#000" stroke-width="7.2" stroke-linecap="butt" />
<text x="1636.41" y="659.70" font-family="'Liberation Sans', sans-serif" font-size="35.5" font-weight="bold" fill="#000"  textLength="39.79" lengthAdjust="spacingAndGlyphs">10</text>
<text x="1679.38" y="649.20" font-family="'Liberation Sans', sans-serif" font-size="23.5" font-weight="bold" fill="#000" >3</text>
<line x1="1837.90" y1="600.20" x2="1837.90" y2="619.80" stroke="#000" stroke-width="7.2" stroke-linecap="butt" />
<text x="1809.16" y="659.70" font-family="'Liberation Sans', sans-serif" font-size="35.5" font-weight="bold" fill="#000"  textLength="39.79" lengthAdjust="spacingAndGlyphs">10</text>
<text x="1852.50" y="649.20" font-family="'Liberation Sans', sans-serif" font-size="23.5" font-weight="bold" fill="#000" >4</text>
<text x="1389.09" y="717.40" font-family="'Liberation Sans', sans-serif" font-size="38" font-weight="bold" fill="#000"  textLength="207.01" lengthAdjust="spacingAndGlyphs">Size (d.nm)</text>
<line x1="1662.30" y1="212.70" x2="1712.10" y2="212.70" stroke="#238DA8" stroke-width="4.6" stroke-linecap="butt" />
<line x1="1666.70" y1="290.20" x2="1716.50" y2="290.20" stroke="#F2A04A" stroke-width="4.6" stroke-linecap="butt" />
<text x="1740.49" y="225.90" font-family="'Liberation Sans', sans-serif" font-size="38.5" font-weight="normal" fill="#000"  textLength="64.68" lengthAdjust="spacingAndGlyphs">apo</text>
<text x="1744.41" y="300.90" font-family="'Liberation Sans', sans-serif" font-size="38.5" font-weight="normal" fill="#000"  textLength="44.61" lengthAdjust="spacingAndGlyphs">cA</text>
<text x="1790.39" y="309.90" font-family="'Liberation Sans', sans-serif" font-size="26" font-weight="normal" fill="#000" >3</text>
<path d="M295.90,1335.30 L295.90,1309.00 L342.30,1309.00 L342.30,1335.30" fill="none" stroke="#000" stroke-width="2.2" stroke-linejoin="round" stroke-linejoin="miter"/>
<path d="M368.95,1335.30 L368.95,1101.20 L415.35,1101.20 L415.35,1335.30" fill="none" stroke="#000" stroke-width="2.2" stroke-linejoin="round" stroke-linejoin="miter"/>
<path d="M442.00,1335.30 L442.00,1021.60 L488.40,1021.60 L488.40,1335.30" fill="none" stroke="#000" stroke-width="2.2" stroke-linejoin="round" stroke-linejoin="miter"/>
<path d="M515.05,1335.30 L515.05,974.80 L561.45,974.80 L561.45,1335.30" fill="none" stroke="#000" stroke-width="2.2" stroke-linejoin="round" stroke-linejoin="miter"/>
<path d="M588.10,1335.30 L588.10,981.70 L634.50,981.70 L634.50,1335.30" fill="none" stroke="#000" stroke-width="2.2" stroke-linejoin="round" stroke-linejoin="miter"/>
<path d="M661.15,1335.30 L661.15,983.20 L707.55,983.20 L707.55,1335.30" fill="none" stroke="#000" stroke-width="2.2" stroke-linejoin="round" stroke-linejoin="miter"/>
<path d="M295.90,1335.30 L295.90,1312.00 L342.30,1312.00 L342.30,1335.30" fill="none" stroke="#F0146C" stroke-width="2.2" stroke-linejoin="round" stroke-linejoin="miter"/>
<path d="M368.95,1335.30 L368.95,1266.50 L415.35,1266.50 L415.35,1335.30" fill="none" stroke="#F0146C" stroke-width="2.2" stroke-linejoin="round" stroke-linejoin="miter"/>
<path d="M442.00,1335.30 L442.00,1216.40 L488.40,1216.40 L488.40,1335.30" fill="none" stroke="#F0146C" stroke-width="2.2" stroke-linejoin="round" stroke-linejoin="miter"/>
<path d="M515.05,1335.30 L515.05,1122.60 L561.45,1122.60 L561.45,1335.30" fill="none" stroke="#F0146C" stroke-width="2.2" stroke-linejoin="round" stroke-linejoin="miter"/>
<path d="M588.10,1335.30 L588.10,1076.50 L634.50,1076.50 L634.50,1335.30" fill="none" stroke="#F0146C" stroke-width="2.2" stroke-linejoin="round" stroke-linejoin="miter"/>
<path d="M661.15,1335.30 L661.15,1075.90 L707.55,1075.90 L707.55,1335.30" fill="none" stroke="#F0146C" stroke-width="2.2" stroke-linejoin="round" stroke-linejoin="miter"/>
<path d="M295.90,1335.30 L295.90,1319.00 L342.30,1319.00 L342.30,1335.30" fill="none" stroke="#189494" stroke-width="2.2" stroke-linejoin="round" stroke-linejoin="miter"/>
<path d="M368.95,1335.30 L368.95,1319.30 L415.35,1319.30 L415.35,1335.30" fill="none" stroke="#189494" stroke-width="2.2" stroke-linejoin="round" stroke-linejoin="miter"/>
<path d="M442.00,1335.30 L442.00,1319.30 L488.40,1319.30 L488.40,1335.30" fill="none" stroke="#189494" stroke-width="2.2" stroke-linejoin="round" stroke-linejoin="miter"/>
<path d="M515.05,1335.30 L515.05,1319.30 L561.45,1319.30 L561.45,1335.30" fill="none" stroke="#189494" stroke-width="2.2" stroke-linejoin="round" stroke-linejoin="miter"/>
<path d="M588.10,1335.30 L588.10,1318.60 L634.50,1318.60 L634.50,1335.30" fill="none" stroke="#189494" stroke-width="2.2" stroke-linejoin="round" stroke-linejoin="miter"/>
<path d="M661.15,1335.30 L661.15,1316.10 L707.55,1316.10 L707.55,1335.30" fill="none" stroke="#189494" stroke-width="2.2" stroke-linejoin="round" stroke-linejoin="miter"/>
<circle cx="301.50" cy="1312.00" r="7.5" fill="#F0146C"/>
<circle cx="314.50" cy="1312.80" r="7.5" fill="#F0146C"/>
<circle cx="338.10" cy="1311.40" r="7.5" fill="#F0146C"/>
<line x1="392.45" y1="1251.00" x2="392.45" y2="1282.00" stroke="#F0146C" stroke-width="2.2" stroke-linecap="butt" />
<line x1="386.85" y1="1251.00" x2="398.05" y2="1251.00" stroke="#F0146C" stroke-width="2.2" stroke-linecap="butt" />
<line x1="386.85" y1="1282.00" x2="398.05" y2="1282.00" stroke="#F0146C" stroke-width="2.2" stroke-linecap="butt" />
<circle cx="392.20" cy="1245.50" r="7.5" fill="#F0146C"/>
<circle cx="374.70" cy="1279.00" r="7.5" fill="#F0146C"/>
<circle cx="409.70" cy="1270.40" r="7.5" fill="#F0146C"/>
<line x1="465.50" y1="1163.20" x2="465.50" y2="1269.60" stroke="#F0146C" stroke-width="2.2" stroke-linecap="butt" />
<line x1="459.90" y1="1163.20" x2="471.10" y2="1163.20" stroke="#F0146C" stroke-width="2.2" stroke-linecap="butt" />
<line x1="459.90" y1="1269.60" x2="471.10" y2="1269.60" stroke="#F0146C" stroke-width="2.2" stroke-linecap="butt" />
<circle cx="448.00" cy="1182.60" r="7.5" fill="#F0146C"/>
<circle cx="483.20" cy="1189.80" r="7.5" fill="#F0146C"/>
<circle cx="465.50" cy="1275.60" r="7.5" fill="#F0146C"/>
<line x1="538.55" y1="1093.30" x2="538.55" y2="1151.90" stroke="#F0146C" stroke-width="2.2" stroke-linecap="butt" />
<line x1="532.95" y1="1093.30" x2="544.15" y2="1093.30" stroke="#F0146C" stroke-width="2.2" stroke-linecap="butt" />
<line x1="532.95" y1="1151.90" x2="544.15" y2="1151.90" stroke="#F0146C" stroke-width="2.2" stroke-linecap="butt" />
<circle cx="520.40" cy="1103.30" r="7.5" fill="#F0146C"/>
<circle cx="555.30" cy="1107.70" r="7.5" fill="#F0146C"/>
<circle cx="537.90" cy="1154.70" r="7.5" fill="#F0146C"/>
<line x1="611.60" y1="1067.30" x2="611.60" y2="1084.40" stroke="#F0146C" stroke-width="2.2" stroke-linecap="butt" />
<line x1="606.00" y1="1067.30" x2="617.20" y2="1067.30" stroke="#F0146C" stroke-width="2.2" stroke-linecap="butt" />
<line x1="606.00" y1="1084.40" x2="617.20" y2="1084.40" stroke="#F0146C" stroke-width="2.2" stroke-linecap="butt" />
<circle cx="593.40" cy="1068.00" r="7.5" fill="#F0146C"/>
<circle cx="593.40" cy="1084.40" r="7.5" fill="#F0146C"/>
<circle cx="628.40" cy="1072.50" r="7.5" fill="#F0146C"/>
<line x1="684.65" y1="1064.00" x2="684.65" y2="1088.00" stroke="#F0146C" stroke-width="2.2" stroke-linecap="butt" />
<line x1="679.05" y1="1064.00" x2="690.25" y2="1064.00" stroke="#F0146C" stroke-width="2.2" stroke-linecap="butt" />
<line x1="679.05" y1="1088.00" x2="690.25" y2="1088.00" stroke="#F0146C" stroke-width="2.2" stroke-linecap="butt" />
<circle cx="666.60" cy="1068.00" r="7.5" fill="#F0146C"/>
<circle cx="701.50" cy="1068.70" r="7.5" fill="#F0146C"/>
<circle cx="684.00" cy="1085.80" r="7.5" fill="#F0146C"/>
<path d="M315.65,1314.65 L328.15,1314.65 L321.90,1327.15 Z" fill="#189494"/>
<path d="M325.05,1314.65 L337.55,1314.65 L331.30,1327.15 Z" fill="#189494"/>
<line x1="386.65" y1="1317.70" x2="397.65" y2="1317.70" stroke="#189494" stroke-width="1.8" stroke-linecap="butt" />
<path d="M368.55,1311.95 L381.05,1311.95 L374.80,1324.45 Z" fill="#189494"/>
<path d="M403.15,1311.95 L415.65,1311.95 L409.40,1324.45 Z" fill="#189494"/>
<line x1="459.70" y1="1317.70" x2="470.70" y2="1317.70" stroke="#189494" stroke-width="1.8" stroke-linecap="butt" />
<path d="M441.35,1311.95 L453.85,1311.95 L447.60,1324.45 Z" fill="#189494"/>
<path d="M476.45,1311.95 L488.95,1311.95 L482.70,1324.45 Z" fill="#189494"/>
<line x1="532.75" y1="1317.70" x2="543.75" y2="1317.70" stroke="#189494" stroke-width="1.8" stroke-linecap="butt" />
<path d="M515.25,1311.95 L527.75,1311.95 L521.50,1324.45 Z" fill="#189494"/>
<path d="M549.25,1311.45 L561.75,1311.45 L555.50,1323.95 Z" fill="#189494"/>
<line x1="605.80" y1="1317.00" x2="616.80" y2="1317.00" stroke="#189494" stroke-width="1.8" stroke-linecap="butt" />
<path d="M588.05,1311.45 L600.55,1311.45 L594.30,1323.95 Z" fill="#189494"/>
<path d="M622.05,1311.45 L634.55,1311.45 L628.30,1323.95 Z" fill="#189494"/>
<line x1="678.85" y1="1314.50" x2="689.85" y2="1314.50" stroke="#189494" stroke-width="1.8" stroke-linecap="butt" />
<path d="M661.35,1308.85 L673.85,1308.85 L667.60,1321.35 Z" fill="#189494"/>
<path d="M694.95,1307.25 L707.45,1307.25 L701.20,1319.75 Z" fill="#189494"/>
<line x1="392.30" y1="1050.40" x2="392.30" y2="1148.00" stroke="#000" stroke-width="2.2" stroke-linecap="butt" />
<line x1="386.50" y1="1050.40" x2="398.10" y2="1050.40" stroke="#000" stroke-width="2.2" stroke-linecap="butt" />
<line x1="386.50" y1="1148.00" x2="398.10" y2="1148.00" stroke="#000" stroke-width="2.2" stroke-linecap="butt" />
<line x1="465.20" y1="977.70" x2="465.20" y2="1058.70" stroke="#000" stroke-width="2.4" stroke-linecap="butt" />
<line x1="538.00" y1="948.30" x2="538.00" y2="1004.80" stroke="#000" stroke-width="2.4" stroke-linecap="butt" />
<line x1="532.20" y1="947.10" x2="543.80" y2="947.10" stroke="#000" stroke-width="2.2" stroke-linecap="butt" />
<line x1="611.30" y1="957.20" x2="611.30" y2="1009.00" stroke="#000" stroke-width="2.4" stroke-linecap="butt" />
<line x1="605.50" y1="956.00" x2="617.10" y2="956.00" stroke="#000" stroke-width="2.2" stroke-linecap="butt" />
<line x1="684.20" y1="950.50" x2="684.20" y2="1018.20" stroke="#000" stroke-width="2.4" stroke-linecap="butt" />
<line x1="678.40" y1="949.30" x2="690.00" y2="949.30" stroke="#000" stroke-width="2.2" stroke-linecap="butt" />
<path d="M306.20,1298.20 L313.10,1305.10 L306.20,1312.00 L299.30,1305.10 Z" fill="#000"/>
<path d="M316.10,1298.20 L323.00,1305.10 L316.10,1312.00 L309.20,1305.10 Z" fill="#000"/>
<path d="M325.60,1301.40 L332.50,1308.30 L325.60,1315.20 L318.70,1308.30 Z" fill="#000"/>
<path d="M392.30,1036.70 L399.20,1043.60 L392.30,1050.50 L385.40,1043.60 Z" fill="#000"/>
<path d="M392.30,1113.60 L399.20,1120.50 L392.30,1127.40 L385.40,1120.50 Z" fill="#000"/>
<path d="M392.30,1128.00 L399.20,1134.90 L392.30,1141.80 L385.40,1134.90 Z" fill="#000"/>
<path d="M465.20,970.80 L472.10,977.70 L465.20,984.60 L458.30,977.70 Z" fill="#000"/>
<path d="M465.20,1017.50 L472.10,1024.40 L465.20,1031.30 L458.30,1024.40 Z" fill="#000"/>
<path d="M465.20,1051.80 L472.10,1058.70 L465.20,1065.60 L458.30,1058.70 Z" fill="#000"/>
<path d="M538.00,941.40 L544.90,948.30 L538.00,955.20 L531.10,948.30 Z" fill="#000"/>
<path d="M538.00,962.90 L544.90,969.80 L538.00,976.70 L531.10,969.80 Z" fill="#000"/>
<path d="M538.00,997.90 L544.90,1004.80 L538.00,1011.70 L531.10,1004.80 Z" fill="#000"/>
<path d="M611.30,950.30 L618.20,957.20 L611.30,964.10 L604.40,957.20 Z" fill="#000"/>
<path d="M611.30,967.40 L618.20,974.30 L611.30,981.20 L604.40,974.30 Z" fill="#000"/>
<path d="M611.30,1002.10 L618.20,1009.00 L611.30,1015.90 L604.40,1009.00 Z" fill="#000"/>
<path d="M684.20,943.60 L691.10,950.50 L684.20,957.40 L677.30,950.50 Z" fill="#000"/>
<path d="M684.20,967.40 L691.10,974.30 L684.20,981.20 L677.30,974.30 Z" fill="#000"/>
<path d="M684.20,1011.30 L691.10,1018.20 L684.20,1025.10 L677.30,1018.20 Z" fill="#000"/>
<line x1="271.00" y1="863.70" x2="271.00" y2="1337.50" stroke="#000" stroke-width="4.6" stroke-linecap="butt" />
<line x1="250.60" y1="1335.30" x2="735.80" y2="1335.30" stroke="#000" stroke-width="4.6" stroke-linecap="butt" />
<line x1="251.00" y1="865.70" x2="271.00" y2="865.70" stroke="#000" stroke-width="4" stroke-linecap="butt" />
<text x="118.54" y="878.30" font-family="'Liberation Sans', sans-serif" font-size="33.5" font-weight="bold" fill="#000"  textLength="106.87" lengthAdjust="spacingAndGlyphs">1.5×10</text>
<text x="233.46" y="866.50" font-family="'Liberation Sans', sans-serif" font-size="21.5" font-weight="bold" fill="#000" >5</text>
<line x1="251.00" y1="1022.20" x2="271.00" y2="1022.20" stroke="#000" stroke-width="4" stroke-linecap="butt" />
<text x="148.57" y="1034.80" font-family="'Liberation Sans', sans-serif" font-size="33.5" font-weight="bold" fill="#000"  textLength="76.81" lengthAdjust="spacingAndGlyphs">1×10</text>
<text x="233.46" y="1023.00" font-family="'Liberation Sans', sans-serif" font-size="21.5" font-weight="bold" fill="#000" >5</text>
<line x1="251.00" y1="1178.80" x2="271.00" y2="1178.80" stroke="#000" stroke-width="4" stroke-linecap="butt" />
<text x="149.88" y="1191.40" font-family="'Liberation Sans', sans-serif" font-size="33.5" font-weight="bold" fill="#000"  textLength="75.48" lengthAdjust="spacingAndGlyphs">5×10</text>
<text x="233.80" y="1179.60" font-family="'Liberation Sans', sans-serif" font-size="21.5" font-weight="bold" fill="#000" >4</text>
<text x="223.93" y="1346.90" font-family="'Liberation Sans', sans-serif" font-size="33.5" font-weight="bold" fill="#000" >0</text>
<line x1="319.10" y1="1335.30" x2="319.10" y2="1355.20" stroke="#000" stroke-width="4.8" stroke-linecap="butt" />
<text x="309.05" y="1391.90" font-family="'Liberation Sans', sans-serif" font-size="34.5" font-weight="bold" fill="#000"  textLength="20.44" lengthAdjust="spacingAndGlyphs">0</text>
<line x1="392.15" y1="1335.30" x2="392.15" y2="1355.20" stroke="#000" stroke-width="4.8" stroke-linecap="butt" />
<text x="356.59" y="1391.90" font-family="'Liberation Sans', sans-serif" font-size="34.5" font-weight="bold" fill="#000"  textLength="69.40" lengthAdjust="spacingAndGlyphs">0.16</text>
<line x1="465.20" y1="1335.30" x2="465.20" y2="1355.20" stroke="#000" stroke-width="4.8" stroke-linecap="butt" />
<text x="439.99" y="1391.90" font-family="'Liberation Sans', sans-serif" font-size="34.5" font-weight="bold" fill="#000"  textLength="49.40" lengthAdjust="spacingAndGlyphs">0.5</text>
<line x1="538.25" y1="1335.30" x2="538.25" y2="1355.20" stroke="#000" stroke-width="4.8" stroke-linecap="butt" />
<text x="514.47" y="1391.90" font-family="'Liberation Sans', sans-serif" font-size="34.5" font-weight="bold" fill="#000"  textLength="47.49" lengthAdjust="spacingAndGlyphs">1.5</text>
<line x1="611.30" y1="1335.30" x2="611.30" y2="1355.20" stroke="#000" stroke-width="4.8" stroke-linecap="butt" />
<text x="586.30" y="1391.90" font-family="'Liberation Sans', sans-serif" font-size="34.5" font-weight="bold" fill="#000"  textLength="48.88" lengthAdjust="spacingAndGlyphs">4.5</text>
<line x1="684.35" y1="1335.30" x2="684.35" y2="1355.20" stroke="#000" stroke-width="4.8" stroke-linecap="butt" />
<text x="648.98" y="1391.90" font-family="'Liberation Sans', sans-serif" font-size="34.5" font-weight="bold" fill="#000"  textLength="69.10" lengthAdjust="spacingAndGlyphs">13.5</text>
<text x="339.47" y="1451.30" font-family="'Liberation Sans', sans-serif" font-size="38" font-weight="bold" fill="#000"  textLength="325.95" lengthAdjust="spacingAndGlyphs">[TIR-SAVED] (µM)</text>
<text x="455.12" y="849.70" font-family="'Liberation Sans', sans-serif" font-size="38" font-weight="normal" fill="#000"  textLength="113.91" lengthAdjust="spacingAndGlyphs">60 min</text>
<text transform="translate(45.00,1237.15) rotate(-90)" font-family="'Liberation Sans', sans-serif" font-size="33.5" font-weight="bold" fill="#000"  textLength="272.63" lengthAdjust="spacingAndGlyphs">NADase activity</text>
<text transform="translate(92.90,1324.12) rotate(-90)" font-family="'Liberation Serif', serif" font-size="34" font-weight="normal" fill="#000"  textLength="15.12" lengthAdjust="spacingAndGlyphs">ε</text>
<text transform="translate(92.90,1307.43) rotate(-90)" font-family="'Liberation Sans', sans-serif" font-size="33.5" font-weight="bold" fill="#000"  textLength="431.03" lengthAdjust="spacingAndGlyphs">-ADPr fluorescence (a.u.)</text>
<path d="M748.50,1032.00 L758.40,1045.00 L748.50,1058.00 L738.60,1045.00 Z" fill="#000"/>
<circle cx="749.10" cy="1096.30" r="8.9" fill="#F0146C"/>
<path d="M740.70,1146.60 L756.30,1146.60 L748.50,1162.00 Z" fill="#189494"/>
<text x="787.30" y="1060.00" font-family="'Liberation Sans', sans-serif" font-size="38.5" font-weight="normal" fill="#000"  textLength="59.35" lengthAdjust="spacingAndGlyphs">WT</text>
<text x="788.10" y="1111.70" font-family="'Liberation Sans', sans-serif" font-size="38.5" font-weight="normal" fill="#000"  textLength="111.71" lengthAdjust="spacingAndGlyphs">Y115A</text>
<text x="786.27" y="1169.60" font-family="'Liberation Sans', sans-serif" font-size="38.5" font-weight="normal" fill="#000"  textLength="187.54" lengthAdjust="spacingAndGlyphs">D45AL46A</text>
<rect x="1304.00" y="788.10" width="473.30" height="93.80" fill="none" stroke="#000" stroke-width="2.5"/>
<text x="1338.25" y="854.70" font-family="'Liberation Sans', sans-serif" font-size="57" font-weight="bold" fill="#000"  textLength="402.48" lengthAdjust="spacingAndGlyphs">NADase assay</text>
<line x1="1684.40" y1="982.10" x2="1684.40" y2="1003.00" stroke="#000" stroke-width="2.2" stroke-linecap="butt" />
<line x1="1675.20" y1="982.10" x2="1693.60" y2="982.10" stroke="#000" stroke-width="2.2" stroke-linecap="butt" />
<line x1="1675.20" y1="1003.00" x2="1693.60" y2="1003.00" stroke="#000" stroke-width="2.2" stroke-linecap="butt" />
<line x1="1793.40" y1="937.10" x2="1793.40" y2="956.30" stroke="#000" stroke-width="2.2" stroke-linecap="butt" />
<line x1="1784.40" y1="937.10" x2="1802.40" y2="937.10" stroke="#000" stroke-width="2.2" stroke-linecap="butt" />
<line x1="1784.40" y1="956.30" x2="1802.40" y2="956.30" stroke="#000" stroke-width="2.2" stroke-linecap="butt" />
<path d="M1245.70,1314.00 L1254.70,1323.00 L1245.70,1332.00 L1236.70,1323.00 Z" fill="#1F9AB5"/>
<path d="M1250.20,1298.10 L1259.20,1307.10 L1250.20,1316.10 L1241.20,1307.10 Z" fill="#1F9AB5"/>
<path d="M1262.30,1269.70 L1271.30,1278.70 L1262.30,1287.70 L1253.30,1278.70 Z" fill="#1F9AB5"/>
<path d="M1295.40,1197.60 L1304.40,1206.60 L1295.40,1215.60 L1286.40,1206.60 Z" fill="#1F9AB5"/>
<path d="M1312.00,1186.70 L1321.00,1195.70 L1312.00,1204.70 L1303.00,1195.70 Z" fill="#1F9AB5"/>
<path d="M1355.70,1095.30 L1364.70,1104.30 L1355.70,1113.30 L1346.70,1104.30 Z" fill="#1F9AB5"/>
<path d="M1394.40,1041.20 L1403.40,1050.20 L1394.40,1059.20 L1385.40,1050.20 Z" fill="#1F9AB5"/>
<path d="M1443.50,1037.90 L1452.50,1046.90 L1443.50,1055.90 L1434.50,1046.90 Z" fill="#1F9AB5"/>
<path d="M1464.90,995.90 L1473.90,1004.90 L1464.90,1013.90 L1455.90,1004.90 Z" fill="#1F9AB5"/>
<path d="M1575.20,994.00 L1584.20,1003.00 L1575.20,1012.00 L1566.20,1003.00 Z" fill="#1F9AB5"/>
<path d="M1684.40,983.60 L1693.40,992.60 L1684.40,1001.60 L1675.40,992.60 Z" fill="#1F9AB5"/>
<path d="M1793.40,937.70 L1802.40,946.70 L1793.40,955.70 L1784.40,946.70 Z" fill="#1F9AB5"/>
<path d="M1903.20,951.40 L1912.20,960.40 L1903.20,969.40 L1894.20,960.40 Z" fill="#1F9AB5"/>
<path d="M1246.00,1323.70 L1248.20,1322.45 L1250.40,1320.02 L1252.60,1316.83 L1254.80,1313.05 L1257.00,1308.79 L1259.20,1304.14 L1261.40,1299.17 L1263.59,1293.95 L1265.79,1288.51 L1267.99,1282.92 L1270.19,1277.21 L1272.39,1271.40 L1274.59,1265.54 L1276.79,1259.66 L1278.99,1253.76 L1281.19,1247.88 L1283.39,1242.03 L1285.59,1236.22 L1287.79,1230.48 L1289.99,1224.80 L1292.19,1219.21 L1294.39,1213.70 L1296.58,1208.28 L1298.78,1202.97 L1300.98,1197.75 L1303.18,1192.65 L1305.38,1187.65 L1307.58,1182.76 L1309.78,1177.98 L1311.98,1173.31 L1314.18,1168.76 L1316.38,1164.31 L1318.58,1159.97 L1320.78,1155.75 L1322.98,1151.62 L1325.18,1147.61 L1327.38,1143.70 L1329.57,1139.89 L1331.77,1136.18 L1333.97,1132.56 L1336.17,1129.05 L1338.37,1125.62 L1340.57,1122.29 L1342.77,1119.04 L1344.97,1115.88 L1347.17,1112.81 L1349.37,1109.82 L1351.57,1106.90 L1353.77,1104.07 L1355.97,1101.31 L1358.17,1098.62 L1360.37,1096.00 L1362.56,1093.45 L1364.76,1090.97 L1366.96,1088.55 L1369.16,1086.19 L1371.36,1083.90 L1373.56,1081.67 L1375.76,1079.49 L1377.96,1077.37 L1380.16,1075.30 L1382.36,1073.28 L1384.56,1071.32 L1386.76,1069.40 L1388.96,1067.53 L1391.16,1065.71 L1393.36,1063.93 L1395.55,1062.19 L1397.75,1060.50 L1399.95,1058.85 L1402.15,1057.24 L1404.35,1055.66 L1406.55,1054.13 L1408.75,1052.63 L1410.95,1051.16 L1413.15,1049.73 L1415.35,1048.33 L1417.55,1046.97 L1419.75,1045.63 L1421.95,1044.33 L1424.15,1043.06 L1426.35,1041.81 L1428.54,1040.59 L1430.74,1039.40 L1432.94,1038.23 L1435.14,1037.09 L1437.34,1035.98 L1439.54,1034.89 L1441.74,1033.82 L1443.94,1032.77 L1446.14,1031.75 L1448.34,1030.75 L1450.54,1029.77 L1452.74,1028.81 L1454.94,1027.87 L1457.14,1026.95 L1459.34,1026.04 L1461.53,1025.16 L1463.73,1024.29 L1465.93,1023.44 L1468.13,1022.61 L1470.33,1021.79 L1472.53,1020.99 L1474.73,1020.21 L1476.93,1019.44 L1479.13,1018.69 L1481.33,1017.95 L1483.53,1017.22 L1485.73,1016.51 L1487.93,1015.81 L1490.13,1015.12 L1492.33,1014.45 L1494.52,1013.79 L1496.72,1013.14 L1498.92,1012.50 L1501.12,1011.88 L1503.32,1011.26 L1505.52,1010.66 L1507.72,1010.06 L1509.92,1009.48 L1512.12,1008.91 L1514.32,1008.35 L1516.52,1007.80 L1518.72,1007.25 L1520.92,1006.72 L1523.12,1006.19 L1525.32,1005.68 L1527.51,1005.17 L1529.71,1004.67 L1531.91,1004.18 L1534.11,1003.70 L1536.31,1003.23 L1538.51,1002.76 L1540.71,1002.30 L1542.91,1001.85 L1545.11,1001.41 L1547.31,1000.97 L1549.51,1000.54 L1551.71,1000.12 L1553.91,999.70 L1556.11,999.29 L1558.31,998.88 L1560.50,998.49 L1562.70,998.10 L1564.90,997.71 L1567.10,997.33 L1569.30,996.96 L1571.50,996.59 L1573.70,996.23 L1575.90,995.87 L1578.10,995.52 L1580.30,995.17 L1582.50,994.83 L1584.70,994.49 L1586.90,994.16 L1589.10,993.83 L1591.29,993.51 L1593.49,993.19 L1595.69,992.88 L1597.89,992.57 L1600.09,992.26 L1602.29,991.96 L1604.49,991.67 L1606.69,991.38 L1608.89,991.09 L1611.09,990.80 L1613.29,990.52 L1615.49,990.25 L1617.69,989.98 L1619.89,989.71 L1622.09,989.44 L1624.28,989.18 L1626.48,988.92 L1628.68,988.67 L1630.88,988.41 L1633.08,988.17 L1635.28,987.92 L1637.48,987.68 L1639.68,987.44 L1641.88,987.20 L1644.08,986.97 L1646.28,986.74 L1648.48,986.52 L1650.68,986.29 L1652.88,986.07 L1655.08,985.85 L1657.27,985.64 L1659.47,985.42 L1661.67,985.21 L1663.87,985.00 L1666.07,984.80 L1668.27,984.60 L1670.47,984.40 L1672.67,984.20 L1674.87,984.00 L1677.07,983.81 L1679.27,983.62 L1681.47,983.43 L1683.67,983.24 L1685.87,983.06 L1688.07,982.88 L1690.26,982.70 L1692.46,982.52 L1694.66,982.34 L1696.86,982.17 L1699.06,982.00 L1701.26,981.83 L1703.46,981.66 L1705.66,981.49 L1707.86,981.33 L1710.06,981.17 L1712.26,981.01 L1714.46,980.85 L1716.66,980.69 L1718.86,980.53 L1721.06,980.38 L1723.25,980.23 L1725.45,980.08 L1727.65,979.93 L1729.85,979.78 L1732.05,979.64 L1734.25,979.49 L1736.45,979.35 L1738.65,979.21 L1740.85,979.07 L1743.05,978.93 L1745.25,978.80 L1747.45,978.66 L1749.65,978.53 L1751.85,978.39 L1754.05,978.26 L1756.24,978.13 L1758.44,978.01 L1760.64,977.88 L1762.84,977.75 L1765.04,977.63 L1767.24,977.51 L1769.44,977.38 L1771.64,977.26 L1773.84,977.14 L1776.04,977.03 L1778.24,976.91 L1780.44,976.79 L1782.64,976.68 L1784.84,976.56 L1787.04,976.45 L1789.23,976.34 L1791.43,976.23 L1793.63,976.12 L1795.83,976.01 L1798.03,975.90 L1800.23,975.80 L1802.43,975.69 L1804.63,975.59 L1806.83,975.49 L1809.03,975.38 L1811.23,975.28 L1813.43,975.18 L1815.63,975.08 L1817.83,974.98 L1820.03,974.89 L1822.22,974.79 L1824.42,974.69 L1826.62,974.60 L1828.82,974.50 L1831.02,974.41 L1833.22,974.32 L1835.42,974.23 L1837.62,974.14 L1839.82,974.05 L1842.02,973.96 L1844.22,973.87 L1846.42,973.78 L1848.62,973.70 L1850.82,973.61 L1853.02,973.52 L1855.21,973.44 L1857.41,973.36 L1859.61,973.27 L1861.81,973.19 L1864.01,973.11 L1866.21,973.03 L1868.41,972.95 L1870.61,972.87 L1872.81,972.79 L1875.01,972.71 L1877.21,972.63 L1879.41,972.56 L1881.61,972.48 L1883.81,972.41 L1886.01,972.33 L1888.20,972.26 L1890.40,972.18 L1892.60,972.11 L1894.80,972.04 L1897.00,971.97 L1899.20,971.89 L1901.40,971.82 L1903.60,971.75" fill="none" stroke="#000" stroke-width="2.6" stroke-linejoin="round" stroke-dasharray="9 5.6" stroke-linecap="butt"/>
<path d="M1246.00,1323.70 L1248.20,1321.99 L1250.40,1320.30 L1252.60,1318.64 L1254.80,1317.01 L1257.00,1315.39 L1259.20,1313.81 L1261.40,1312.24 L1263.59,1310.69 L1265.79,1309.17 L1267.99,1307.67 L1270.19,1306.19 L1272.39,1304.72 L1274.59,1303.28 L1276.79,1301.86 L1278.99,1300.46 L1281.19,1299.07 L1283.39,1297.71 L1285.59,1296.36 L1287.79,1295.03 L1289.99,1293.72 L1292.19,1292.42 L1294.39,1291.14 L1296.58,1289.88 L1298.78,1288.63 L1300.98,1287.40 L1303.18,1286.19 L1305.38,1284.99 L1307.58,1283.80 L1309.78,1282.63 L1311.98,1281.47 L1314.18,1280.33 L1316.38,1279.20 L1318.58,1278.08 L1320.78,1276.98 L1322.98,1275.89 L1325.18,1274.82 L1327.38,1273.75 L1329.57,1272.70 L1331.77,1271.66 L1333.97,1270.63 L1336.17,1269.62 L1338.37,1268.61 L1340.57,1267.62 L1342.77,1266.64 L1344.97,1265.67 L1347.17,1264.71 L1349.37,1263.76 L1351.57,1262.82 L1353.77,1261.89 L1355.97,1260.98 L1358.17,1260.07 L1360.37,1259.17 L1362.56,1258.28 L1364.76,1257.40 L1366.96,1256.53 L1369.16,1255.67 L1371.36,1254.82 L1373.56,1253.97 L1375.76,1253.14 L1377.96,1252.31 L1380.16,1251.50 L1382.36,1250.69 L1384.56,1249.89 L1386.76,1249.09 L1388.96,1248.31 L1391.16,1247.53 L1393.36,1246.76 L1395.55,1246.00 L1397.75,1245.25 L1399.95,1244.50 L1402.15,1243.76 L1404.35,1243.03 L1406.55,1242.30 L1408.75,1241.59 L1410.95,1240.87 L1413.15,1240.17 L1415.35,1239.47 L1417.55,1238.78 L1419.75,1238.10 L1421.95,1237.42 L1424.15,1236.75 L1426.35,1236.08 L1428.54,1235.42 L1430.74,1234.77 L1432.94,1234.12 L1435.14,1233.48 L1437.34,1232.84 L1439.54,1232.21 L1441.74,1231.59 L1443.94,1230.97 L1446.14,1230.36 L1448.34,1229.75 L1450.54,1229.15 L1452.74,1228.55 L1454.94,1227.96 L1457.14,1227.37 L1459.34,1226.79 L1461.53,1226.21 L1463.73,1225.64 L1465.93,1225.07 L1468.13,1224.51 L1470.33,1223.95 L1472.53,1223.40 L1474.73,1222.85 L1476.93,1222.31 L1479.13,1221.77 L1481.33,1221.23 L1483.53,1220.70 L1485.73,1220.18 L1487.93,1219.66 L1490.13,1219.14 L1492.33,1218.63 L1494.52,1218.12 L1496.72,1217.61 L1498.92,1217.11 L1501.12,1216.62 L1503.32,1216.12 L1505.52,1215.64 L1507.72,1215.15 L1509.92,1214.67 L1512.12,1214.19 L1514.32,1213.72 L1516.52,1213.25 L1518.72,1212.78 L1520.92,1212.32 L1523.12,1211.86 L1525.32,1211.41 L1527.51,1210.95 L1529.71,1210.51 L1531.91,1210.06 L1534.11,1209.62 L1536.31,1209.18 L1538.51,1208.74 L1540.71,1208.31 L1542.91,1207.88 L1545.11,1207.46 L1547.31,1207.04 L1549.51,1206.62 L1551.71,1206.20 L1553.91,1205.79 L1556.11,1205.38 L1558.31,1204.97 L1560.50,1204.57 L1562.70,1204.16 L1564.90,1203.77 L1567.10,1203.37 L1569.30,1202.98 L1571.50,1202.59 L1573.70,1202.20 L1575.90,1201.82 L1578.10,1201.43 L1580.30,1201.05 L1582.50,1200.68 L1584.70,1200.30 L1586.90,1199.93 L1589.10,1199.56 L1591.29,1199.20 L1593.49,1198.83 L1595.69,1198.47 L1597.89,1198.11 L1600.09,1197.76 L1602.29,1197.40 L1604.49,1197.05 L1606.69,1196.70 L1608.89,1196.36 L1611.09,1196.01 L1613.29,1195.67 L1615.49,1195.33 L1617.69,1194.99 L1619.89,1194.66 L1622.09,1194.32 L1624.28,1193.99 L1626.48,1193.66 L1628.68,1193.34 L1630.88,1193.01 L1633.08,1192.69 L1635.28,1192.37 L1637.48,1192.05 L1639.68,1191.73 L1641.88,1191.42 L1644.08,1191.11 L1646.28,1190.80 L1648.48,1190.49 L1650.68,1190.18 L1652.88,1189.88 L1655.08,1189.57 L1657.27,1189.27 L1659.47,1188.97 L1661.67,1188.68 L1663.87,1188.38 L1666.07,1188.09 L1668.27,1187.80 L1670.47,1187.51 L1672.67,1187.22 L1674.87,1186.93 L1677.07,1186.65 L1679.27,1186.36 L1681.47,1186.08 L1683.67,1185.80 L1685.87,1185.53 L1688.07,1185.25 L1690.26,1184.97 L1692.46,1184.70 L1694.66,1184.43 L1696.86,1184.16 L1699.06,1183.89 L1701.26,1183.63 L1703.46,1183.36 L1705.66,1183.10 L1707.86,1182.84 L1710.06,1182.58 L1712.26,1182.32 L1714.46,1182.06 L1716.66,1181.80 L1718.86,1181.55 L1721.06,1181.30 L1723.25,1181.04 L1725.45,1180.79 L1727.65,1180.55 L1729.85,1180.30 L1732.05,1180.05 L1734.25,1179.81 L1736.45,1179.56 L1738.65,1179.32 L1740.85,1179.08 L1743.05,1178.84 L1745.25,1178.61 L1747.45,1178.37 L1749.65,1178.13 L1751.85,1177.90 L1754.05,1177.67 L1756.24,1177.44 L1758.44,1177.21 L1760.64,1176.98 L1762.84,1176.75 L1765.04,1176.52 L1767.24,1176.30 L1769.44,1176.07 L1771.64,1175.85 L1773.84,1175.63 L1776.04,1175.41 L1778.24,1175.19 L1780.44,1174.97 L1782.64,1174.76 L1784.84,1174.54 L1787.04,1174.33 L1789.23,1174.11 L1791.43,1173.90 L1793.63,1173.69 L1795.83,1173.48 L1798.03,1173.27 L1800.23,1173.06 L1802.43,1172.86 L1804.63,1172.65 L1806.83,1172.44 L1809.03,1172.24 L1811.23,1172.04 L1813.43,1171.84 L1815.63,1171.64 L1817.83,1171.44 L1820.03,1171.24 L1822.22,1171.04 L1824.42,1170.84 L1826.62,1170.65 L1828.82,1170.45 L1831.02,1170.26 L1833.22,1170.07 L1835.42,1169.88 L1837.62,1169.69 L1839.82,1169.50 L1842.02,1169.31 L1844.22,1169.12 L1846.42,1168.93 L1848.62,1168.75 L1850.82,1168.56 L1853.02,1168.38 L1855.21,1168.19 L1857.41,1168.01 L1859.61,1167.83 L1861.81,1167.65 L1864.01,1167.47 L1866.21,1167.29 L1868.41,1167.11 L1870.61,1166.93 L1872.81,1166.76 L1875.01,1166.58 L1877.21,1166.41 L1879.41,1166.23 L1881.61,1166.06 L1883.81,1165.89 L1886.01,1165.72 L1888.20,1165.55 L1890.40,1165.38 L1892.60,1165.21 L1894.80,1165.04 L1897.00,1164.87 L1899.20,1164.70 L1901.40,1164.54 L1903.60,1164.37" fill="none" stroke="#000" stroke-width="2.6" stroke-linejoin="round" stroke-dasharray="9 5.6" stroke-linecap="butt"/>
<line x1="1684.40" y1="1196.30" x2="1684.40" y2="1219.90" stroke="#000" stroke-width="2.2" stroke-linecap="butt" />
<line x1="1677.20" y1="1196.30" x2="1691.60" y2="1196.30" stroke="#000" stroke-width="2.2" stroke-linecap="butt" />
<line x1="1677.20" y1="1219.90" x2="1691.60" y2="1219.90" stroke="#000" stroke-width="2.2" stroke-linecap="butt" />
<circle cx="1251.30" cy="1315.60" r="7.4" fill="#8C0A91"/>
<circle cx="1263.00" cy="1312.90" r="7.4" fill="#8C0A91"/>
<circle cx="1295.50" cy="1291.30" r="7.4" fill="#8C0A91"/>
<circle cx="1355.60" cy="1265.20" r="7.4" fill="#8C0A91"/>
<circle cx="1464.90" cy="1223.70" r="7.4" fill="#8C0A91"/>
<circle cx="1575.20" cy="1198.50" r="7.4" fill="#8C0A91"/>
<circle cx="1684.40" cy="1208.10" r="7.4" fill="#8C0A91"/>
<circle cx="1903.20" cy="1155.10" r="7.4" fill="#8C0A91"/>
<line x1="1199.60" y1="898.70" x2="1199.60" y2="1325.80" stroke="#000" stroke-width="4.8" stroke-linecap="butt" />
<line x1="1179.00" y1="900.70" x2="1199.60" y2="900.70" stroke="#000" stroke-width="3.9" stroke-linecap="butt" />
<text x="1135.56" y="912.80" font-family="'Liberation Sans', sans-serif" font-size="34.5" font-weight="bold" fill="#000"  textLength="38.55" lengthAdjust="spacingAndGlyphs">30</text>
<line x1="1179.00" y1="1041.70" x2="1199.60" y2="1041.70" stroke="#000" stroke-width="3.9" stroke-linecap="butt" />
<text x="1135.00" y="1053.80" font-family="'Liberation Sans', sans-serif" font-size="34.5" font-weight="bold" fill="#000"  textLength="39.12" lengthAdjust="spacingAndGlyphs">20</text>
<line x1="1179.00" y1="1182.70" x2="1199.60" y2="1182.70" stroke="#000" stroke-width="3.9" stroke-linecap="butt" />
<text x="1133.83" y="1194.80" font-family="'Liberation Sans', sans-serif" font-size="34.5" font-weight="bold" fill="#000"  textLength="40.34" lengthAdjust="spacingAndGlyphs">10</text>
<line x1="1179.00" y1="1323.70" x2="1199.60" y2="1323.70" stroke="#000" stroke-width="3.9" stroke-linecap="butt" />
<text x="1154.61" y="1335.80" font-family="'Liberation Sans', sans-serif" font-size="34.5" font-weight="bold" fill="#000" >0</text>
<line x1="1949.50" y1="898.70" x2="1949.50" y2="1325.80" stroke="#000" stroke-width="4.8" stroke-linecap="butt" />
<line x1="1949.50" y1="900.70" x2="1964.40" y2="900.70" stroke="#000" stroke-width="3.9" stroke-linecap="butt" />
<text x="1974.36" y="912.80" font-family="'Liberation Sans', sans-serif" font-size="34.5" font-weight="bold" fill="#000" >5</text>
<line x1="1949.50" y1="985.30" x2="1964.40" y2="985.30" stroke="#000" stroke-width="3.9" stroke-linecap="butt" />
<text x="1974.90" y="997.40" font-family="'Liberation Sans', sans-serif" font-size="34.5" font-weight="bold" fill="#000" >4</text>
<line x1="1949.50" y1="1069.90" x2="1964.40" y2="1069.90" stroke="#000" stroke-width="3.9" stroke-linecap="butt" />
<text x="1974.36" y="1082.00" font-family="'Liberation Sans', sans-serif" font-size="34.5" font-weight="bold" fill="#000" >3</text>
<line x1="1949.50" y1="1154.50" x2="1964.40" y2="1154.50" stroke="#000" stroke-width="3.9" stroke-linecap="butt" />
<text x="1973.82" y="1166.60" font-family="'Liberation Sans', sans-serif" font-size="34.5" font-weight="bold" fill="#000" >2</text>
<line x1="1949.50" y1="1239.10" x2="1964.40" y2="1239.10" stroke="#000" stroke-width="3.9" stroke-linecap="butt" />
<text x="1972.74" y="1251.20" font-family="'Liberation Sans', sans-serif" font-size="34.5" font-weight="bold" fill="#000" >1</text>
<line x1="1949.50" y1="1323.70" x2="1964.40" y2="1323.70" stroke="#000" stroke-width="3.9" stroke-linecap="butt" />
<text x="1973.82" y="1335.80" font-family="'Liberation Sans', sans-serif" font-size="34.5" font-weight="bold" fill="#000" >0</text>
<line x1="1243.70" y1="1369.70" x2="1906.00" y2="1369.70" stroke="#000" stroke-width="4.6" stroke-linecap="butt" />
<line x1="1246.00" y1="1369.70" x2="1246.00" y2="1389.80" stroke="#000" stroke-width="4.6" stroke-linecap="butt" />
<text x="1237.17" y="1428.00" font-family="'Liberation Sans', sans-serif" font-size="34.5" font-weight="bold" fill="#000" >0</text>
<line x1="1465.20" y1="1369.70" x2="1465.20" y2="1389.80" stroke="#000" stroke-width="4.6" stroke-linecap="butt" />
<text x="1427.05" y="1428.00" font-family="'Liberation Sans', sans-serif" font-size="34.5" font-weight="bold" fill="#000" >1000</text>
<line x1="1684.40" y1="1369.70" x2="1684.40" y2="1389.80" stroke="#000" stroke-width="4.6" stroke-linecap="butt" />
<text x="1646.79" y="1428.00" font-family="'Liberation Sans', sans-serif" font-size="34.5" font-weight="bold" fill="#000" >2000</text>
<line x1="1903.60" y1="1369.70" x2="1903.60" y2="1389.80" stroke="#000" stroke-width="4.6" stroke-linecap="butt" />
<text x="1866.26" y="1428.00" font-family="'Liberation Sans', sans-serif" font-size="34.5" font-weight="bold" fill="#000" >3000</text>
<text transform="translate(1111.70,1319.65) rotate(-90)" font-family="'Liberation Sans', sans-serif" font-size="39" font-weight="normal" fill="#000"  textLength="247.94" lengthAdjust="spacingAndGlyphs">Initial velocity (</text>
<text transform="translate(1111.70,1066.10) rotate(-90)" font-family="'Liberation Serif', serif" font-size="39" font-weight="normal" fill="#000"  textLength="20.34" lengthAdjust="spacingAndGlyphs">µ</text>
<text transform="translate(1111.70,1046.87) rotate(-90)" font-family="'Liberation Sans', sans-serif" font-size="39" font-weight="normal" fill="#000"  textLength="103.51" lengthAdjust="spacingAndGlyphs">M.min</text>
<text transform="translate(1094.00,942.20) rotate(-90)" font-family="'Liberation Sans', sans-serif" font-size="28.8" font-weight="normal" fill="#000"  textLength="19.91" lengthAdjust="spacingAndGlyphs">-1</text>
<text transform="translate(1111.70,914.60) rotate(-90)" font-family="'Liberation Sans', sans-serif" font-size="39" font-weight="normal" fill="#000" >)</text>
<text transform="translate(1057.10,1141.50) rotate(-90)" font-family="'Liberation Sans', sans-serif" font-size="39.5" font-weight="normal" fill="#2594AC" stroke="#fff" stroke-width="0.9" textLength="59.76" lengthAdjust="spacingAndGlyphs">WT</text>
<text transform="translate(2025.00,904.82) rotate(90)" font-family="'Liberation Sans', sans-serif" font-size="39" font-weight="normal" fill="#000"  textLength="376.23" lengthAdjust="spacingAndGlyphs">Initial velocity (µM.min</text>
<text transform="translate(2042.60,1281.75) rotate(90)" font-family="'Liberation Sans', sans-serif" font-size="28.8" font-weight="normal" fill="#000"  textLength="21.43" lengthAdjust="spacingAndGlyphs">-1</text>
<text transform="translate(2025.00,1309.50) rotate(90)" font-family="'Liberation Sans', sans-serif" font-size="39" font-weight="normal" fill="#000" >)</text>
<text transform="translate(2079.70,1055.30) rotate(90)" font-family="'Liberation Sans', sans-serif" font-size="39" font-weight="normal" fill="#860A8A" stroke="#fff" stroke-width="0.4" textLength="113.32" lengthAdjust="spacingAndGlyphs">Y115A</text>
<text x="1466.61" y="1490.20" font-family="'Liberation Serif', serif" font-size="38" font-weight="normal" fill="#000" >ε</text>
<text x="1481.53" y="1490.20" font-family="'Liberation Sans', sans-serif" font-size="38" font-weight="normal" fill="#000"  textLength="125.65" lengthAdjust="spacingAndGlyphs">NAD+ (</text>
<text x="1607.81" y="1490.20" font-family="'Liberation Serif', serif" font-size="38" font-weight="normal" fill="#000" >µ</text>
<text x="1627.34" y="1490.20" font-family="'Liberation Sans', sans-serif" font-size="38" font-weight="normal" fill="#000"  textLength="54.69" lengthAdjust="spacingAndGlyphs">M)</text>
<line x1="1311.70" y1="1599.60" x2="1776.70" y2="1599.60" stroke="#000" stroke-width="2.8" stroke-linecap="butt" />
<line x1="1311.70" y1="1694.30" x2="1776.70" y2="1694.30" stroke="#000" stroke-width="2.8" stroke-linecap="butt" />
<text x="1398.95" y="1557.10" font-family="'Liberation Sans', sans-serif" font-size="36" font-weight="bold" fill="#000"  textLength="22.56" lengthAdjust="spacingAndGlyphs">K</text>
<text x="1421.67" y="1566.60" font-family="'Liberation Sans', sans-serif" font-size="23" font-weight="bold" fill="#000"  textLength="27.12" lengthAdjust="spacingAndGlyphs">M</text>
<text x="1627.67" y="1557.10" font-family="'Liberation Sans', sans-serif" font-size="40" font-weight="bold" fill="#000"  textLength="20.69" lengthAdjust="spacingAndGlyphs">k</text>
<text x="1649.24" y="1566.60" font-family="'Liberation Sans', sans-serif" font-size="26" font-weight="bold" fill="#000"  textLength="35.18" lengthAdjust="spacingAndGlyphs">cat</text>
<text x="1192.90" y="1652.30" font-family="'Liberation Sans', sans-serif" font-size="37" font-weight="bold" fill="#1E9898"  textLength="60.56" lengthAdjust="spacingAndGlyphs">WT</text>
<text x="1350.93" y="1652.80" font-family="'Liberation Sans', sans-serif" font-size="37.5" font-weight="normal" fill="#000"  textLength="144.88" lengthAdjust="spacingAndGlyphs">471 µM</text>
<text x="1563.29" y="1652.80" font-family="'Liberation Sans', sans-serif" font-size="37.5" font-weight="normal" fill="#000"  textLength="161.17" lengthAdjust="spacingAndGlyphs">59.2 min</text>
<text x="1725.20" y="1639.60" font-family="'Liberation Sans', sans-serif" font-size="25" font-weight="normal" fill="#000"  textLength="22.63" lengthAdjust="spacingAndGlyphs">-1</text>
<text x="1161.67" y="1748.50" font-family="'Liberation Sans', sans-serif" font-size="37" font-weight="bold" fill="#7030A0"  textLength="120.79" lengthAdjust="spacingAndGlyphs">Y115A</text>
<text x="1341.26" y="1748.30" font-family="'Liberation Sans', sans-serif" font-size="37.5" font-weight="normal" fill="#000"  textLength="165.18" lengthAdjust="spacingAndGlyphs">1533 µM</text>
<text x="1574.02" y="1748.30" font-family="'Liberation Sans', sans-serif" font-size="37.5" font-weight="bold" fill="#000"  textLength="141.47" lengthAdjust="spacingAndGlyphs">2.9 min</text>
<text x="1714.94" y="1735.00" font-family="'Liberation Sans', sans-serif" font-size="25" font-weight="bold" fill="#000"  textLength="21.67" lengthAdjust="spacingAndGlyphs">-1</text>
</svg></body></html>
